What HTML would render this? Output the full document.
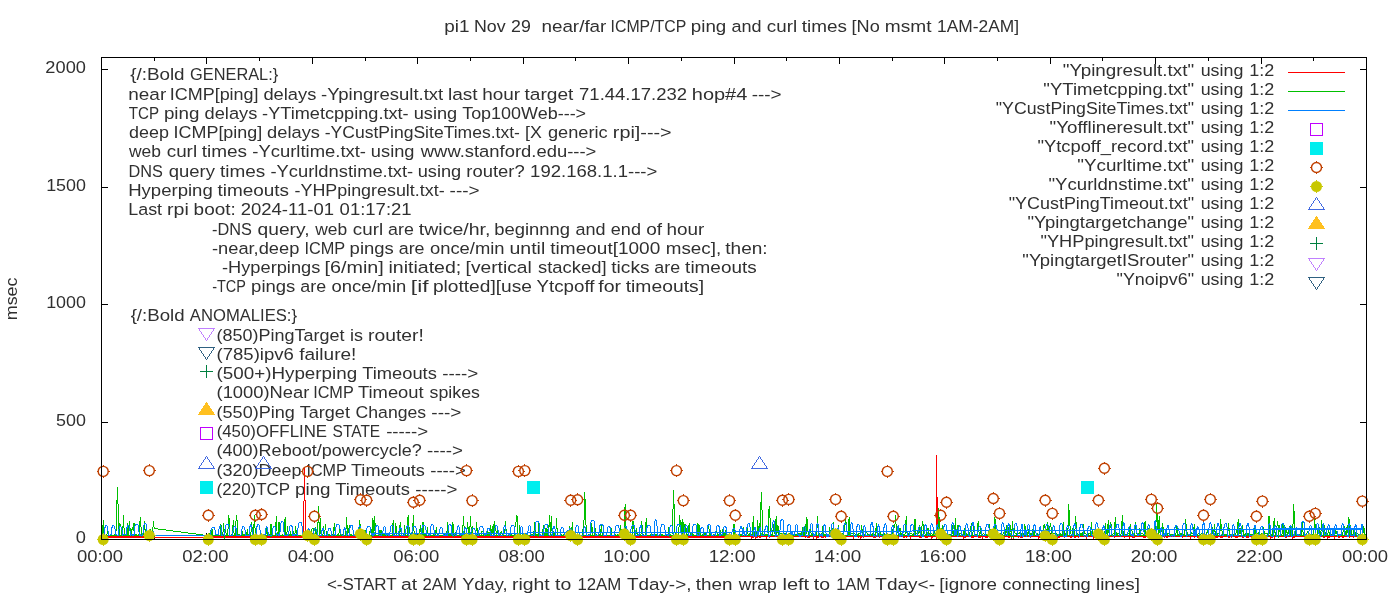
<!DOCTYPE html>
<html><head><meta charset="utf-8"><title>pi1 ping plot</title>
<style>
html,body{margin:0;padding:0;background:#fff;}
svg{display:block;will-change:transform;}
.t text{font-family:"Liberation Sans",sans-serif;font-size:16.3px;fill:#303030;}
</style></head><body>
<svg width="1400" height="600" viewBox="0 0 1400 600">
<rect x="0" y="0" width="1400" height="600" fill="#fff"/>
<g class="t">
<text x="444.22" y="32" textLength="25.20" lengthAdjust="spacingAndGlyphs">pi1</text><text x="474.02" y="32" textLength="31.68" lengthAdjust="spacingAndGlyphs">Nov</text><text x="511.12" y="32" textLength="19.77" lengthAdjust="spacingAndGlyphs">29</text><text x="541.45" y="32" textLength="64.95" lengthAdjust="spacingAndGlyphs">near/far</text><text x="610.55" y="32" textLength="75.75" lengthAdjust="spacingAndGlyphs">ICMP/TCP</text><text x="690.85" y="32" textLength="35.48" lengthAdjust="spacingAndGlyphs">ping</text><text x="731.46" y="32" textLength="30.07" lengthAdjust="spacingAndGlyphs">and</text><text x="766.84" y="32" textLength="30.25" lengthAdjust="spacingAndGlyphs">curl</text><text x="801.69" y="32" textLength="45.23" lengthAdjust="spacingAndGlyphs">times</text><text x="851.58" y="32" textLength="28.19" lengthAdjust="spacingAndGlyphs">[No</text><text x="884.82" y="32" textLength="46.70" lengthAdjust="spacingAndGlyphs">msmt</text><text x="937.04" y="32" textLength="82.03" lengthAdjust="spacingAndGlyphs">1AM-2AM]</text>
<text x="326.95" y="590" textLength="69.67" lengthAdjust="spacingAndGlyphs">&lt;-START</text><text x="401.14" y="590" textLength="16.12" lengthAdjust="spacingAndGlyphs">at</text><text x="422.48" y="590" textLength="34.41" lengthAdjust="spacingAndGlyphs">2AM</text><text x="462.17" y="590" textLength="45.38" lengthAdjust="spacingAndGlyphs">Yday,</text><text x="512.04" y="590" textLength="37.73" lengthAdjust="spacingAndGlyphs">right</text><text x="555.12" y="590" textLength="16.25" lengthAdjust="spacingAndGlyphs">to</text><text x="577.43" y="590" textLength="43.90" lengthAdjust="spacingAndGlyphs">12AM</text><text x="626.90" y="590" textLength="64.53" lengthAdjust="spacingAndGlyphs">Tday-&gt;,</text><text x="695.79" y="590" textLength="36.70" lengthAdjust="spacingAndGlyphs">then</text><text x="738.82" y="590" textLength="38.00" lengthAdjust="spacingAndGlyphs">wrap</text><text x="782.48" y="590" textLength="26.73" lengthAdjust="spacingAndGlyphs">left</text><text x="813.84" y="590" textLength="16.25" lengthAdjust="spacingAndGlyphs">to</text><text x="836.18" y="590" textLength="33.78" lengthAdjust="spacingAndGlyphs">1AM</text><text x="875.37" y="590" textLength="59.63" lengthAdjust="spacingAndGlyphs">Tday&lt;-</text><text x="939.37" y="590" textLength="57.51" lengthAdjust="spacingAndGlyphs">[ignore</text><text x="1002.25" y="590" textLength="88.52" lengthAdjust="spacingAndGlyphs">connecting</text><text x="1096.03" y="590" textLength="43.93" lengthAdjust="spacingAndGlyphs">lines]</text>
<text transform="translate(17.2,320.23) rotate(-90)" x="0" y="0" textLength="42.71" lengthAdjust="spacingAndGlyphs">msec</text>
<text x="75.81" y="543" textLength="10.17" lengthAdjust="spacingAndGlyphs">0</text>
<text x="56.13" y="426" textLength="29.84" lengthAdjust="spacingAndGlyphs">500</text>
<text x="46.16" y="308" textLength="39.81" lengthAdjust="spacingAndGlyphs">1000</text>
<text x="46.16" y="191" textLength="39.81" lengthAdjust="spacingAndGlyphs">1500</text>
<text x="45.39" y="73" textLength="40.59" lengthAdjust="spacingAndGlyphs">2000</text>
<text x="76.91" y="562" textLength="46.23" lengthAdjust="spacingAndGlyphs">00:00</text>
<text x="182.32" y="562" textLength="46.23" lengthAdjust="spacingAndGlyphs">02:00</text>
<text x="287.74" y="562" textLength="46.23" lengthAdjust="spacingAndGlyphs">04:00</text>
<text x="393.16" y="562" textLength="46.23" lengthAdjust="spacingAndGlyphs">06:00</text>
<text x="498.57" y="562" textLength="46.23" lengthAdjust="spacingAndGlyphs">08:00</text>
<text x="603.28" y="562" textLength="46.96" lengthAdjust="spacingAndGlyphs">10:00</text>
<text x="708.69" y="562" textLength="46.96" lengthAdjust="spacingAndGlyphs">12:00</text>
<text x="814.11" y="562" textLength="46.96" lengthAdjust="spacingAndGlyphs">14:00</text>
<text x="919.53" y="562" textLength="46.96" lengthAdjust="spacingAndGlyphs">16:00</text>
<text x="1024.94" y="562" textLength="46.96" lengthAdjust="spacingAndGlyphs">18:00</text>
<text x="1130.84" y="562" textLength="46.47" lengthAdjust="spacingAndGlyphs">20:00</text>
<text x="1236.25" y="562" textLength="46.47" lengthAdjust="spacingAndGlyphs">22:00</text>
<text x="1341.91" y="562" textLength="46.23" lengthAdjust="spacingAndGlyphs">00:00</text>
<text x="130.15" y="80" textLength="54.46" lengthAdjust="spacingAndGlyphs">{/:Bold</text><text x="190.11" y="80" textLength="88.05" lengthAdjust="spacingAndGlyphs">GENERAL:}</text>
<text x="128.30" y="100" textLength="37.92" lengthAdjust="spacingAndGlyphs">near</text><text x="169.79" y="100" textLength="88.79" lengthAdjust="spacingAndGlyphs">ICMP[ping]</text><text x="263.42" y="100" textLength="52.93" lengthAdjust="spacingAndGlyphs">delays</text><text x="321.14" y="100" textLength="122.12" lengthAdjust="spacingAndGlyphs">-Ypingresult.txt</text><text x="447.96" y="100" textLength="29.70" lengthAdjust="spacingAndGlyphs">last</text><text x="482.28" y="100" textLength="37.92" lengthAdjust="spacingAndGlyphs">hour</text><text x="524.49" y="100" textLength="48.84" lengthAdjust="spacingAndGlyphs">target</text><text x="579.10" y="100" textLength="107.89" lengthAdjust="spacingAndGlyphs">71.44.17.232</text><text x="691.80" y="100" textLength="55.50" lengthAdjust="spacingAndGlyphs">hop#4</text><text x="751.70" y="100" textLength="29.96" lengthAdjust="spacingAndGlyphs">---&gt;</text>
<text x="128.82" y="119" textLength="30.32" lengthAdjust="spacingAndGlyphs">TCP</text><text x="163.92" y="119" textLength="35.50" lengthAdjust="spacingAndGlyphs">ping</text><text x="204.56" y="119" textLength="52.76" lengthAdjust="spacingAndGlyphs">delays</text><text x="262.10" y="119" textLength="146.54" lengthAdjust="spacingAndGlyphs">-YTimetcpping.txt-</text><text x="413.74" y="119" textLength="43.48" lengthAdjust="spacingAndGlyphs">using</text><text x="462.17" y="119" textLength="123.95" lengthAdjust="spacingAndGlyphs">Top100Web---&gt;</text>
<text x="129.02" y="138" textLength="39.88" lengthAdjust="spacingAndGlyphs">deep</text><text x="173.59" y="138" textLength="88.67" lengthAdjust="spacingAndGlyphs">ICMP[ping]</text><text x="267.10" y="138" textLength="52.86" lengthAdjust="spacingAndGlyphs">delays</text><text x="324.78" y="138" textLength="195.16" lengthAdjust="spacingAndGlyphs">-YCustPingSiteTimes.txt-</text><text x="525.06" y="138" textLength="16.81" lengthAdjust="spacingAndGlyphs">[X</text><text x="547.98" y="138" textLength="59.71" lengthAdjust="spacingAndGlyphs">generic</text><text x="612.87" y="138" textLength="58.76" lengthAdjust="spacingAndGlyphs">rpi]---&gt;</text>
<text x="129.00" y="157" textLength="32.01" lengthAdjust="spacingAndGlyphs">web</text><text x="166.73" y="157" textLength="30.37" lengthAdjust="spacingAndGlyphs">curl</text><text x="201.72" y="157" textLength="45.41" lengthAdjust="spacingAndGlyphs">times</text><text x="252.25" y="157" textLength="113.78" lengthAdjust="spacingAndGlyphs">-Ycurltime.txt-</text><text x="370.88" y="157" textLength="43.62" lengthAdjust="spacingAndGlyphs">using</text><text x="420.81" y="157" textLength="175.50" lengthAdjust="spacingAndGlyphs">www.stanford.edu---&gt;</text>
<text x="128.38" y="177" textLength="34.37" lengthAdjust="spacingAndGlyphs">DNS</text><text x="168.75" y="177" textLength="46.19" lengthAdjust="spacingAndGlyphs">query</text><text x="220.00" y="177" textLength="45.33" lengthAdjust="spacingAndGlyphs">times</text><text x="270.44" y="177" textLength="142.79" lengthAdjust="spacingAndGlyphs">-Ycurldnstime.txt-</text><text x="417.71" y="177" textLength="43.54" lengthAdjust="spacingAndGlyphs">using</text><text x="466.29" y="177" textLength="58.39" lengthAdjust="spacingAndGlyphs">router?</text><text x="530.13" y="177" textLength="127.24" lengthAdjust="spacingAndGlyphs">192.168.1.1---&gt;</text>
<text x="128.19" y="196" textLength="84.53" lengthAdjust="spacingAndGlyphs">Hyperping</text><text x="217.43" y="196" textLength="71.63" lengthAdjust="spacingAndGlyphs">timeouts</text><text x="294.50" y="196" textLength="150.14" lengthAdjust="spacingAndGlyphs">-YHPpingresult.txt-</text><text x="449.59" y="196" textLength="29.98" lengthAdjust="spacingAndGlyphs">---&gt;</text>
<text x="128.25" y="215" textLength="33.79" lengthAdjust="spacingAndGlyphs">Last</text><text x="167.03" y="215" textLength="21.78" lengthAdjust="spacingAndGlyphs">rpi</text><text x="193.62" y="215" textLength="42.17" lengthAdjust="spacingAndGlyphs">boot:</text><text x="240.66" y="215" textLength="93.32" lengthAdjust="spacingAndGlyphs">2024-11-01</text><text x="339.61" y="215" textLength="72.00" lengthAdjust="spacingAndGlyphs">01:17:21</text>
<text x="212.09" y="235" textLength="39.79" lengthAdjust="spacingAndGlyphs">-DNS</text><text x="257.59" y="235" textLength="51.94" lengthAdjust="spacingAndGlyphs">query,</text><text x="315.18" y="235" textLength="31.91" lengthAdjust="spacingAndGlyphs">web</text><text x="352.80" y="235" textLength="30.28" lengthAdjust="spacingAndGlyphs">curl</text><text x="388.14" y="235" textLength="25.75" lengthAdjust="spacingAndGlyphs">are</text><text x="418.86" y="235" textLength="71.52" lengthAdjust="spacingAndGlyphs">twice/hr,</text><text x="494.22" y="235" textLength="75.84" lengthAdjust="spacingAndGlyphs">beginnng</text><text x="575.40" y="235" textLength="30.10" lengthAdjust="spacingAndGlyphs">and</text><text x="610.83" y="235" textLength="30.10" lengthAdjust="spacingAndGlyphs">end</text><text x="646.26" y="235" textLength="15.87" lengthAdjust="spacingAndGlyphs">of</text><text x="666.46" y="235" textLength="37.80" lengthAdjust="spacingAndGlyphs">hour</text>
<text x="212.00" y="254" textLength="87.33" lengthAdjust="spacingAndGlyphs">-near,deep</text><text x="304.40" y="254" textLength="40.77" lengthAdjust="spacingAndGlyphs">ICMP</text><text x="349.61" y="254" textLength="44.15" lengthAdjust="spacingAndGlyphs">pings</text><text x="398.73" y="254" textLength="25.79" lengthAdjust="spacingAndGlyphs">are</text><text x="429.96" y="254" textLength="74.59" lengthAdjust="spacingAndGlyphs">once/min</text><text x="509.47" y="254" textLength="35.78" lengthAdjust="spacingAndGlyphs">until</text><text x="550.35" y="254" textLength="109.88" lengthAdjust="spacingAndGlyphs">timeout[1000</text><text x="665.76" y="254" textLength="55.40" lengthAdjust="spacingAndGlyphs">msec],</text><text x="725.32" y="254" textLength="42.35" lengthAdjust="spacingAndGlyphs">then:</text>
<text x="222.00" y="273" textLength="98.30" lengthAdjust="spacingAndGlyphs">-Hyperpings</text><text x="324.56" y="273" textLength="59.24" lengthAdjust="spacingAndGlyphs">[6/min]</text><text x="388.51" y="273" textLength="72.79" lengthAdjust="spacingAndGlyphs">initiated;</text><text x="465.58" y="273" textLength="66.11" lengthAdjust="spacingAndGlyphs">[vertical</text><text x="537.99" y="273" textLength="68.53" lengthAdjust="spacingAndGlyphs">stacked]</text><text x="611.26" y="273" textLength="38.29" lengthAdjust="spacingAndGlyphs">ticks</text><text x="654.34" y="273" textLength="25.81" lengthAdjust="spacingAndGlyphs">are</text><text x="685.13" y="273" textLength="71.54" lengthAdjust="spacingAndGlyphs">timeouts</text>
<text x="212.17" y="292" textLength="33.70" lengthAdjust="spacingAndGlyphs">-TCP</text><text x="251.11" y="292" textLength="44.21" lengthAdjust="spacingAndGlyphs">pings</text><text x="300.32" y="292" textLength="25.83" lengthAdjust="spacingAndGlyphs">are</text><text x="331.59" y="292" textLength="74.70" lengthAdjust="spacingAndGlyphs">once/min</text><text x="410.88" y="292" textLength="17.64" lengthAdjust="spacingAndGlyphs">[if</text><text x="432.90" y="292" textLength="99.03" lengthAdjust="spacingAndGlyphs">plotted][use</text><text x="536.54" y="292" textLength="57.94" lengthAdjust="spacingAndGlyphs">Ytcpoff</text><text x="598.31" y="292" textLength="22.80" lengthAdjust="spacingAndGlyphs">for</text><text x="625.70" y="292" textLength="78.35" lengthAdjust="spacingAndGlyphs">timeouts]</text>
<text x="130.65" y="321" textLength="53.94" lengthAdjust="spacingAndGlyphs">{/:Bold</text><text x="189.87" y="321" textLength="107.19" lengthAdjust="spacingAndGlyphs">ANOMALIES:}</text>
<text x="216.58" y="341" textLength="128.00" lengthAdjust="spacingAndGlyphs">(850)PingTarget</text><text x="350.01" y="341" textLength="13.01" lengthAdjust="spacingAndGlyphs">is</text><text x="368.06" y="341" textLength="55.78" lengthAdjust="spacingAndGlyphs">router!</text>
<text x="216.54" y="360" textLength="77.29" lengthAdjust="spacingAndGlyphs">(785)ipv6</text><text x="299.23" y="360" textLength="57.17" lengthAdjust="spacingAndGlyphs">failure!</text>
<text x="216.52" y="379" textLength="140.61" lengthAdjust="spacingAndGlyphs">(500+)Hyperping</text><text x="362.19" y="379" textLength="74.69" lengthAdjust="spacingAndGlyphs">Timeouts</text><text x="442.27" y="379" textLength="36.02" lengthAdjust="spacingAndGlyphs">----&gt;</text>
<text x="216.55" y="398" textLength="92.79" lengthAdjust="spacingAndGlyphs">(1000)Near</text><text x="313.13" y="398" textLength="40.60" lengthAdjust="spacingAndGlyphs">ICMP</text><text x="357.95" y="398" textLength="65.74" lengthAdjust="spacingAndGlyphs">Timeout</text><text x="429.54" y="398" textLength="50.37" lengthAdjust="spacingAndGlyphs">spikes</text>
<text x="216.57" y="418" textLength="78.28" lengthAdjust="spacingAndGlyphs">(550)Ping</text><text x="299.72" y="418" textLength="50.22" lengthAdjust="spacingAndGlyphs">Target</text><text x="355.58" y="418" textLength="70.55" lengthAdjust="spacingAndGlyphs">Changes</text><text x="431.38" y="418" textLength="30.09" lengthAdjust="spacingAndGlyphs">---&gt;</text>
<text x="216.65" y="437" textLength="110.44" lengthAdjust="spacingAndGlyphs">(450)OFFLINE</text><text x="332.57" y="437" textLength="47.61" lengthAdjust="spacingAndGlyphs">STATE</text><text x="386.15" y="437" textLength="41.97" lengthAdjust="spacingAndGlyphs">-----&gt;</text>
<text x="216.57" y="456" textLength="205.23" lengthAdjust="spacingAndGlyphs">(400)Reboot/powercycle?</text><text x="427.14" y="456" textLength="35.94" lengthAdjust="spacingAndGlyphs">----&gt;</text>
<text x="216.58" y="476" textLength="84.80" lengthAdjust="spacingAndGlyphs">(320)Deep</text><text x="306.40" y="476" textLength="40.37" lengthAdjust="spacingAndGlyphs">ICMP</text><text x="350.97" y="476" textLength="73.93" lengthAdjust="spacingAndGlyphs">Timeouts</text><text x="430.23" y="476" textLength="35.65" lengthAdjust="spacingAndGlyphs">----&gt;</text>
<text x="216.64" y="495" textLength="73.57" lengthAdjust="spacingAndGlyphs">(220)TCP</text><text x="295.02" y="495" textLength="35.58" lengthAdjust="spacingAndGlyphs">ping</text><text x="335.19" y="495" textLength="74.66" lengthAdjust="spacingAndGlyphs">Timeouts</text><text x="415.24" y="495" textLength="42.08" lengthAdjust="spacingAndGlyphs">-----&gt;</text>
</g>
<path d="M101.5 540.0v-7M101.5 57.0v7M154.5 540.0v-4M154.5 57.0v4M206.5 540.0v-7M206.5 57.0v7M259.5 540.0v-4M259.5 57.0v4M312.5 540.0v-7M312.5 57.0v7M365.5 540.0v-4M365.5 57.0v4M417.5 540.0v-7M417.5 57.0v7M470.5 540.0v-4M470.5 57.0v4M523.5 540.0v-7M523.5 57.0v7M575.5 540.0v-4M575.5 57.0v4M628.5 540.0v-7M628.5 57.0v7M681.5 540.0v-4M681.5 57.0v4M734.5 540.0v-7M734.5 57.0v7M786.5 540.0v-4M786.5 57.0v4M839.5 540.0v-7M839.5 57.0v7M892.5 540.0v-4M892.5 57.0v4M944.5 540.0v-7M944.5 57.0v7M997.5 540.0v-4M997.5 57.0v4M1050.5 540.0v-7M1050.5 57.0v7M1102.5 540.0v-4M1102.5 57.0v4M1155.5 540.0v-7M1155.5 57.0v7M1208.5 540.0v-4M1208.5 57.0v4M1261.5 540.0v-7M1261.5 57.0v7M1313.5 540.0v-4M1313.5 57.0v4M1366.5 540.0v-7M1366.5 57.0v7M101.0 539.5h7M1367.0 539.5h-7M101.0 422.5h7M1367.0 422.5h-7M101.0 304.5h7M1367.0 304.5h-7M101.0 187.5h7M1367.0 187.5h-7M101.0 69.5h7M1367.0 69.5h-7" stroke="#000" stroke-width="1" fill="none" shape-rendering="crispEdges"/>
<g shape-rendering="crispEdges">
<path d="M206.5 340.5L214.5 328.5L198.5 328.5Z" fill="none" stroke="#c080ff" stroke-width="1"/>
<path d="M206.5 359.5L214.5 347.5L198.5 347.5Z" fill="none" stroke="#306080" stroke-width="1"/>
<path d="M200.0 371.5h13M206.5 365.0v13" stroke="#008040" stroke-width="1" fill="none"/>
<path d="M206.5 402.5L214.5 414.5L198.5 414.5Z" fill="#ffc020" stroke="#ffc020" stroke-width="1"/>
<rect x="200.5" y="427.5" width="12" height="12" fill="none" stroke="#c000ff" stroke-width="1"/>
<path d="M206.5 456.5L214.5 468.5L198.5 468.5Z" fill="none" stroke="#4169e1" stroke-width="1"/>
<rect x="200.0" y="481.0" width="13" height="13" fill="#00eeee"/>
<path d="M1288.0 72.5H1345.0" stroke="#ff0000" stroke-width="1" fill="none"/>
<path d="M103 537H154M207 537H740" stroke="#ff0000" stroke-width="2" fill="none"/>
<path d="M154 537.5H207M740 536.5H1362" stroke="#ff0000" stroke-width="1" fill="none"/>
<path d="M751 537.5h3M751 538.5h1M755 537.5h3M755 538.5h1M759 537.5h2M766 537.5h1M766 538.5h1M769 537.5h1M778 537.5h2M778 538.5h1M782 537.5h2M788 537.5h1M805 537.5h1M807 537.5h3M813 537.5h1M813 538.5h1M816 537.5h3M816 538.5h1M821 537.5h3M825 537.5h1M833 537.5h1M833 538.5h1M844 537.5h1M853 537.5h1M853 538.5h1M858 537.5h1M860 537.5h2M860 538.5h1M863 537.5h1M873 537.5h3M879 537.5h1M884 537.5h2M891 537.5h1M893 537.5h1M895 537.5h1M898 537.5h1M898 538.5h1M903 537.5h2M906 537.5h1M910 537.5h1M910 538.5h1M919 537.5h3M925 537.5h3M931 537.5h2M931 538.5h1M936 537.5h3M936 538.5h1M963 537.5h3M963 538.5h1M971 537.5h3M978 537.5h3M982 537.5h1M982 538.5h1M985 537.5h3M994 537.5h1M1000 537.5h2M1004 537.5h1M1004 538.5h1M1008 537.5h2M1011 537.5h1M1011 538.5h1M1013 537.5h1M1013 538.5h1M1018 537.5h1M1020 537.5h3M1030 537.5h1M1038 537.5h3M1038 538.5h1M1046 537.5h2M1053 537.5h3M1053 538.5h1M1057 537.5h3M1057 538.5h1M1064 537.5h1M1070 537.5h2M1074 537.5h2M1078 537.5h1M1086 537.5h1M1086 538.5h1M1093 537.5h2M1093 538.5h1M1114 537.5h1M1124 537.5h1M1129 537.5h1M1129 538.5h1M1132 537.5h3M1143 537.5h3M1152 537.5h3M1156 537.5h1M1160 537.5h1M1164 537.5h1M1166 537.5h2M1182 537.5h1M1190 537.5h1M1190 538.5h1M1194 537.5h1M1197 537.5h2M1208 537.5h3M1208 538.5h1M1215 537.5h3M1220 537.5h3M1228 537.5h2M1231 537.5h1M1235 537.5h3M1242 537.5h2M1246 537.5h3M1251 537.5h1M1256 537.5h1M1259 537.5h3M1270 537.5h3M1270 538.5h1M1274 537.5h1M1274 538.5h1M1285 537.5h2M1292 537.5h3M1292 538.5h1M1306 537.5h3M1306 538.5h1M1310 537.5h3M1317 537.5h3M1323 537.5h2M1327 537.5h3M1327 538.5h1M1334 537.5h1M1334 538.5h1M1338 537.5h2M1342 537.5h2M1349 537.5h1M1353 537.5h1" stroke="#ff0000" stroke-width="1" fill="none"/>
<path d="M303.5 537V501M304.5 501V468M305.5 537V500" stroke="#ff0000" stroke-width="1" fill="none"/>
<path d="M936.5 537V455M937.5 537V497" stroke="#ff0000" stroke-width="1" fill="none"/>
<path d="M1288.0 91.5H1345.0" stroke="#00c000" stroke-width="1" fill="none"/>
<path d="M101.5 535.5L102.4 535.5L103.3 520.0L104.1 535.5L105.0 535.5L105.9 535.5L106.8 535.5L107.6 529.7L108.5 534.5L109.4 535.5L110.3 535.5L111.2 535.5L112.0 535.5L112.9 535.5L113.8 535.5L114.7 534.5L115.6 535.5L116.4 527.8L117.3 487.0L118.2 508.0L119.1 535.5L119.9 523.8L120.8 524.6L121.7 535.5L122.6 534.5L123.5 515.0L124.3 535.5L125.2 534.5L126.1 534.5L127.0 535.5L127.9 523.4L128.7 535.5L129.6 521.0L130.5 535.5L131.4 535.5L132.2 527.5L133.1 530.5L134.0 523.0L134.9 534.5L135.8 534.5L136.6 534.5L137.5 535.5L138.4 534.5L139.3 535.5L140.2 517.1L141.0 527.0L141.9 535.5L142.8 534.5L143.7 535.5L144.5 521.3L145.4 534.5L146.3 535.5L147.2 535.5L148.1 535.5L148.9 535.5L149.8 535.5L150.7 530.5L151.6 535.5L152.5 534.5L153.3 523.0L154.2 528.5L206.9 535.5L207.8 535.5L208.7 535.5L209.6 535.5L210.4 531.5L211.3 535.5L212.2 530.5L213.1 535.5L213.9 535.5L214.8 535.5L215.7 535.5L216.6 535.5L217.5 534.5L218.3 535.5L219.2 535.5L220.1 535.5L221.0 524.5L221.9 534.5L222.7 535.5L223.6 526.8L224.5 534.5L225.4 525.1L226.2 535.5L227.1 534.5L228.0 529.5L228.9 515.0L229.8 535.5L230.6 535.5L231.5 534.5L232.4 534.5L233.3 520.0L234.1 534.5L235.0 535.5L235.9 521.6L236.8 515.0L237.7 534.5L238.5 534.5L239.4 534.5L240.3 535.5L241.2 535.5L242.1 531.3L242.9 535.5L243.8 534.5L244.7 534.5L245.6 534.5L246.4 535.5L247.3 530.6L248.2 535.5L249.1 535.5L250.0 535.5L250.8 535.5L251.7 522.4L252.6 535.5L253.5 535.5L254.4 515.1L255.2 531.7L256.1 534.5L257.0 535.5L257.9 535.5L258.7 535.5L259.6 535.5L260.5 534.5L261.4 534.5L262.3 535.5L263.1 535.5L264.0 534.5L264.9 535.5L265.8 535.5L266.7 528.7L267.5 535.5L268.4 535.5L269.3 534.5L270.2 535.5L271.0 523.9L271.9 535.5L272.8 534.5L273.7 535.5L274.6 535.5L275.4 535.5L276.3 516.0L277.2 535.5L278.1 535.5L279.0 522.2L279.8 534.5L280.7 535.5L281.6 535.5L282.5 534.5L283.3 535.5L284.2 534.5L285.1 517.0L286.0 534.5L286.9 532.6L287.7 528.1L288.6 535.5L289.5 535.5L290.4 532.2L291.2 535.5L292.1 534.5L293.0 531.2L293.9 535.5L294.8 535.5L295.6 525.7L296.5 535.5L297.4 534.5L298.3 535.5L299.2 535.5L300.0 535.5L300.9 535.5L301.8 535.5L302.7 532.9L303.5 535.5L304.4 535.5L305.3 535.5L306.2 535.5L307.1 535.5L307.9 535.5L308.8 534.5L309.7 535.5L310.6 535.5L311.5 530.4L312.3 528.8L313.2 528.4L314.1 534.5L315.0 534.5L315.8 528.8L316.7 534.5L317.6 535.5L318.5 506.0L319.4 535.5L320.2 518.0L321.1 535.5L322.0 535.5L322.9 534.5L323.8 527.4L324.6 535.5L325.5 523.8L326.4 535.5L327.3 534.5L328.1 535.5L329.0 534.5L329.9 535.5L330.8 535.5L331.7 535.5L332.5 534.5L333.4 535.5L334.3 523.2L335.2 532.8L336.1 535.5L336.9 535.5L337.8 534.5L338.7 535.5L339.6 529.1L340.4 535.5L341.3 535.5L342.2 534.5L343.1 534.5L344.0 535.5L344.8 535.5L345.7 534.5L346.6 516.9L347.5 534.5L348.4 531.4L349.2 527.0L350.1 535.5L351.0 534.5L351.9 535.5L352.7 535.5L353.6 535.5L354.5 535.5L355.4 535.5L356.3 534.5L357.1 532.8L358.0 534.5L358.9 534.5L359.8 519.7L360.6 534.5L361.5 535.5L362.4 535.5L363.3 534.5L364.2 534.5L365.0 529.8L365.9 535.5L366.8 535.5L367.7 534.5L368.6 535.5L369.4 534.5L370.3 529.7L371.2 529.8L372.1 535.5L372.9 518.0L373.8 535.5L374.7 516.0L375.6 535.5L376.5 535.5L377.3 535.5L378.2 535.5L379.1 535.5L380.0 530.2L380.9 535.5L381.7 531.7L382.6 535.5L383.5 534.5L384.4 534.5L385.2 534.5L386.1 535.5L387.0 534.5L387.9 535.5L388.8 535.5L389.6 534.5L390.5 535.5L391.4 535.5L392.3 535.5L393.2 520.0L394.0 535.5L394.9 535.5L395.8 523.1L396.7 535.5L397.5 535.5L398.4 535.5L399.3 535.5L400.2 522.1L401.1 532.5L401.9 535.5L402.8 535.5L403.7 535.5L404.6 528.4L405.5 535.5L406.3 535.5L407.2 535.5L408.1 515.0L409.0 527.4L409.8 532.0L410.7 535.5L411.6 535.5L412.5 534.5L413.4 515.0L414.2 535.5L415.1 534.5L416.0 535.5L416.9 535.5L417.8 535.5L418.6 534.5L419.5 534.5L420.4 525.0L421.3 534.5L422.1 535.5L423.0 521.8L423.9 534.5L424.8 535.5L425.7 534.5L426.5 535.5L427.4 529.1L428.3 534.5L429.2 535.5L430.0 535.5L430.9 535.5L431.8 535.5L432.7 535.5L433.6 534.5L434.4 535.5L435.3 535.5L436.2 528.4L437.1 534.5L438.0 535.5L438.8 535.5L439.7 535.5L440.6 535.5L441.5 535.5L442.3 535.5L443.2 534.5L444.1 535.5L445.0 534.5L445.9 535.5L446.7 535.5L447.6 521.8L448.5 534.5L449.4 534.5L450.3 534.5L451.1 535.5L452.0 535.5L452.9 522.0L453.8 535.5L454.6 534.5L455.5 533.0L456.4 535.5L457.3 535.5L458.2 535.5L459.0 535.5L459.9 535.5L460.8 535.5L461.7 535.5L462.6 534.5L463.4 516.0L464.3 531.2L465.2 535.5L466.1 535.5L466.9 529.8L467.8 523.8L468.7 535.5L469.6 534.5L470.5 516.1L471.3 533.0L472.2 527.2L473.1 535.5L474.0 535.5L474.9 535.5L475.7 535.5L476.6 522.4L477.5 535.5L478.4 534.5L479.2 534.5L480.1 535.5L481.0 535.5L481.9 531.2L482.8 531.3L483.6 535.5L484.5 535.5L485.4 535.5L486.3 531.4L487.1 531.7L488.0 535.5L488.9 532.5L489.8 534.5L490.7 525.2L491.5 535.5L492.4 525.8L493.3 535.5L494.2 521.2L495.1 529.2L495.9 530.7L496.8 534.5L497.7 529.2L498.6 532.3L499.4 535.5L500.3 535.5L501.2 531.4L502.1 534.5L503.0 534.5L503.8 534.5L504.7 531.1L505.6 523.9L506.5 535.5L507.4 535.5L508.2 535.5L509.1 534.5L510.0 534.5L510.9 532.9L511.7 535.5L512.6 535.5L513.5 535.5L514.4 534.5L515.3 523.4L516.1 521.7L517.0 515.4L517.9 534.5L518.8 535.5L519.7 525.2L520.5 535.5L521.4 535.5L522.3 534.5L523.2 534.5L524.0 535.5L524.9 534.5L525.8 535.5L526.7 534.5L527.6 535.5L528.4 535.5L529.3 535.5L530.2 534.5L531.1 535.5L532.0 534.5L532.8 534.5L533.7 535.5L534.6 522.4L535.5 534.5L536.3 534.5L537.2 534.5L538.1 535.5L539.0 523.0L539.9 535.5L540.7 535.5L541.6 535.5L542.5 534.5L543.4 524.7L544.2 535.5L545.1 535.5L546.0 528.3L546.9 535.5L547.8 529.9L548.6 532.5L549.5 515.1L550.4 535.5L551.3 516.0L552.2 535.5L553.0 535.5L553.9 531.9L554.8 535.5L555.7 535.5L556.5 518.2L557.4 535.5L558.3 535.5L559.2 535.5L560.1 535.5L560.9 535.5L561.8 534.5L562.7 535.5L563.6 534.5L564.5 534.5L565.3 535.5L566.2 535.5L567.1 535.5L568.0 535.5L568.8 535.5L569.7 528.3L570.6 534.5L571.5 534.5L572.4 521.9L573.2 535.5L574.1 535.5L575.0 535.5L575.9 535.5L576.8 535.5L577.6 535.5L578.5 535.5L579.4 534.5L580.3 535.5L581.1 535.5L582.0 535.5L582.9 529.8L583.8 528.9L584.7 492.0L585.5 511.0L586.4 535.5L587.3 535.5L588.2 535.5L589.1 534.5L589.9 534.5L590.8 534.5L591.7 523.2L592.6 534.5L593.4 535.5L594.3 534.5L595.2 528.8L596.1 534.5L597.0 535.5L597.8 535.5L598.7 534.5L599.6 534.5L600.5 535.5L601.4 523.9L602.2 535.5L603.1 534.5L604.0 535.5L604.9 535.5L605.7 535.5L606.6 535.5L607.5 535.5L608.4 535.5L609.3 535.5L610.1 535.5L611.0 527.6L611.9 535.5L612.8 535.5L613.6 535.5L614.5 534.5L615.4 534.5L616.3 535.5L617.2 534.5L618.0 534.5L618.9 534.5L619.8 534.5L620.7 525.3L621.6 535.5L622.4 534.5L623.3 535.5L624.2 535.5L625.1 504.0L625.9 535.5L626.8 535.5L627.7 535.5L628.6 535.5L629.5 535.5L630.3 535.5L631.2 535.5L632.1 535.5L633.0 521.2L633.9 528.6L634.7 534.5L635.6 535.5L636.5 530.9L637.4 535.5L638.2 535.5L639.1 534.5L640.0 535.5L640.9 535.5L641.8 521.3L642.6 534.5L643.5 534.5L644.4 535.5L645.3 535.5L646.2 518.0L647.0 535.5L647.9 535.5L648.8 535.5L649.7 535.5L650.5 534.5L651.4 535.5L652.3 534.5L653.2 534.5L654.1 534.5L654.9 534.5L655.8 535.5L656.7 534.5L657.6 534.5L658.5 535.5L659.3 535.5L660.2 534.5L661.1 535.5L662.0 534.5L662.8 534.5L663.7 535.5L664.6 535.5L665.5 535.5L666.4 534.5L667.2 535.5L668.1 534.5L669.0 527.0L669.9 535.5L670.8 534.5L671.6 535.5L672.5 534.5L673.4 490.3L674.3 510.0L675.1 535.5L676.0 535.5L676.9 535.5L677.8 535.5L678.7 534.5L679.5 515.0L680.4 523.1L681.3 535.5L682.2 518.7L683.0 534.5L683.9 522.4L684.8 534.5L685.7 524.4L686.6 535.5L687.4 534.5L688.3 535.5L689.2 522.8L690.1 534.5L691.0 535.5L691.8 532.7L692.7 534.5L693.6 534.5L694.5 535.5L695.3 535.5L696.2 535.5L697.1 534.5L698.0 523.4L698.9 535.5L699.7 527.7L700.6 535.5L701.5 535.5L702.4 534.5L703.3 535.5L704.1 535.5L705.0 531.9L705.9 534.5L706.8 535.5L707.6 527.5L708.5 525.6L709.4 532.4L710.3 535.5L711.2 535.5L712.0 535.5L712.9 535.5L713.8 534.5L714.7 535.5L715.6 534.5L716.4 528.7L717.3 535.5L718.2 535.5L719.1 534.5L719.9 529.2L720.8 534.5L721.7 535.5L722.6 531.2L723.5 535.5L724.3 534.5L725.2 531.2L726.1 535.5L727.0 535.5L727.9 535.5L728.7 535.5L729.6 535.5L730.5 535.5L731.4 534.5L732.2 535.5L733.1 535.5L734.0 524.2L734.9 535.5L735.8 534.5L736.6 534.5L737.5 535.5L738.4 534.5L739.3 534.5L740.1 534.5L741.0 534.5L741.9 534.5L742.8 533.5L743.7 528.9L744.5 533.5L745.4 534.5L746.3 534.5L747.2 524.9L748.1 534.5L748.9 534.5L749.8 533.5L750.7 533.5L751.6 534.5L752.4 534.5L753.3 515.8L754.2 534.5L755.1 534.5L756.0 534.5L756.8 534.5L757.7 524.1L758.6 529.1L759.5 525.5L760.4 534.5L761.2 492.0L762.1 512.0L763.0 534.5L763.9 534.5L764.7 534.5L765.6 534.5L766.5 534.5L767.4 534.5L768.3 533.5L769.1 505.7L770.0 518.0L770.9 534.5L771.8 534.5L772.7 534.5L773.5 524.5L774.4 533.5L775.3 534.5L776.2 515.8L777.0 533.5L777.9 524.9L778.8 534.5L779.7 534.5L780.6 533.5L781.4 533.5L782.3 534.5L783.2 533.5L784.1 533.5L785.0 533.5L785.8 533.5L786.7 534.5L787.6 534.5L788.5 534.5L789.3 533.5L790.2 534.5L791.1 533.5L792.0 534.5L792.9 534.5L793.7 534.5L794.6 534.5L795.5 534.5L796.4 534.5L797.2 534.5L798.1 534.5L799.0 533.5L799.9 533.5L800.8 534.5L801.6 534.5L802.5 529.9L803.4 534.5L804.3 534.5L805.2 523.8L806.0 534.5L806.9 517.0L807.8 531.8L808.7 534.5L809.5 533.5L810.4 528.7L811.3 534.5L812.2 534.5L813.1 533.5L813.9 534.5L814.8 534.5L815.7 534.5L816.6 534.5L817.5 516.0L818.3 534.5L819.2 533.5L820.1 534.5L821.0 534.5L821.8 534.5L822.7 527.9L823.6 534.5L824.5 534.5L825.4 534.5L826.2 534.5L827.1 534.5L828.0 534.5L828.9 534.5L829.8 528.3L830.6 533.5L831.5 534.5L832.4 533.5L833.3 525.2L834.1 533.5L835.0 534.5L835.9 533.5L836.8 531.4L837.7 529.8L838.5 526.8L839.4 533.5L840.3 534.5L841.2 533.5L842.1 533.5L842.9 534.5L843.8 533.5L844.7 526.4L845.6 521.2L846.4 523.8L847.3 534.5L848.2 534.5L849.1 517.0L850.0 534.5L850.8 533.5L851.7 533.5L852.6 533.5L853.5 534.5L854.4 533.5L855.2 534.5L856.1 534.5L857.0 534.5L857.9 534.5L858.7 533.5L859.6 533.5L860.5 533.5L861.4 526.7L862.3 530.6L863.1 533.5L864.0 534.5L864.9 534.5L865.8 532.7L866.6 531.5L867.5 534.5L868.4 534.5L869.3 534.5L870.2 533.5L871.0 534.5L871.9 534.5L872.8 533.5L873.7 534.5L874.6 534.5L875.4 534.5L876.3 525.6L877.2 534.5L878.1 533.5L878.9 534.5L879.8 530.7L880.7 534.5L881.6 534.5L882.5 534.5L883.3 533.5L884.2 533.5L885.1 534.5L886.0 534.5L886.9 534.5L887.7 534.5L888.6 534.5L889.5 534.5L890.4 534.5L891.2 534.5L892.1 529.1L893.0 533.5L893.9 525.8L894.8 527.5L895.6 515.0L896.5 533.5L897.4 530.4L898.3 533.5L899.2 530.2L900.0 528.2L900.9 534.5L901.8 533.5L902.7 534.5L903.5 534.5L904.4 534.5L905.3 533.5L906.2 516.0L907.1 534.5L907.9 533.5L908.8 534.5L909.7 534.5L910.6 533.5L911.5 533.5L912.3 534.5L913.2 534.5L914.1 533.5L915.0 518.7L915.8 534.5L916.7 533.5L917.6 532.2L918.5 533.5L919.4 528.2L920.2 534.5L921.1 534.5L922.0 525.7L922.9 522.0L923.8 534.5L924.6 533.5L925.5 534.5L926.4 534.5L927.3 529.7L928.1 528.5L929.0 533.5L929.9 534.5L930.8 534.5L931.7 533.5L932.5 534.5L933.4 534.5L934.3 531.1L935.2 534.5L936.0 533.5L936.9 527.8L937.8 533.5L938.7 508.0L939.6 534.5L940.4 534.5L941.3 533.5L942.2 526.1L943.1 533.5L944.0 534.5L944.8 533.5L945.7 534.5L946.6 534.5L947.5 533.5L948.3 534.5L949.2 534.5L950.1 534.5L951.0 534.5L951.9 534.5L952.7 527.5L953.6 534.5L954.5 533.5L955.4 518.2L956.3 534.5L957.1 534.5L958.0 525.0L958.9 534.5L959.8 533.5L960.6 533.5L961.5 533.5L962.4 534.5L963.3 534.5L964.2 529.0L965.0 534.5L965.9 533.5L966.8 534.5L967.7 534.5L968.6 534.5L969.4 534.5L970.3 530.7L971.2 525.4L972.1 534.5L972.9 533.5L973.8 524.7L974.7 533.5L975.6 534.5L976.5 534.5L977.3 533.5L978.2 520.8L979.1 533.5L980.0 534.5L980.9 529.2L981.7 534.5L982.6 534.5L983.5 533.5L984.4 534.5L985.2 534.5L986.1 534.5L987.0 534.5L987.9 534.5L988.8 533.5L989.6 523.9L990.5 534.5L991.4 534.5L992.3 534.5L993.1 533.5L994.0 534.5L994.9 517.0L995.8 533.5L996.7 534.5L997.5 534.5L998.4 534.5L999.3 534.5L1000.2 534.5L1001.1 533.5L1001.9 534.5L1002.8 534.5L1003.7 532.4L1004.6 533.5L1005.4 534.5L1006.3 527.2L1007.2 534.5L1008.1 534.5L1009.0 527.4L1009.8 533.5L1010.7 527.0L1011.6 534.5L1012.5 525.9L1013.4 534.5L1014.2 528.1L1015.1 533.5L1016.0 533.5L1016.9 534.5L1017.7 534.5L1018.6 533.5L1019.5 533.5L1020.4 530.9L1021.3 534.5L1022.1 533.5L1023.0 533.5L1023.9 534.5L1024.8 523.6L1025.7 533.5L1026.5 534.5L1027.4 534.5L1028.3 530.5L1029.2 534.5L1030.0 533.5L1030.9 534.5L1031.8 534.5L1032.7 530.3L1033.6 534.5L1034.4 534.5L1035.3 529.2L1036.2 534.5L1037.1 533.5L1038.0 534.5L1038.8 534.5L1039.7 534.5L1040.6 533.5L1041.5 533.5L1042.3 534.5L1043.2 534.5L1044.1 524.2L1045.0 528.2L1045.9 528.6L1046.7 534.5L1047.6 522.5L1048.5 533.5L1049.4 534.5L1050.2 524.0L1051.1 527.7L1052.0 533.5L1052.9 533.5L1053.8 533.5L1054.6 533.5L1055.5 534.5L1056.4 533.5L1057.3 534.5L1058.2 534.5L1059.0 534.5L1059.9 534.5L1060.8 533.5L1061.7 534.5L1062.5 534.5L1063.4 522.2L1064.3 534.5L1065.2 533.5L1066.1 534.5L1066.9 534.5L1067.8 534.5L1068.7 504.0L1069.6 520.0L1070.5 533.5L1071.3 534.5L1072.2 534.5L1073.1 527.0L1074.0 529.9L1074.8 533.5L1075.7 516.3L1076.6 533.5L1077.5 533.5L1078.4 534.5L1079.2 534.5L1080.1 534.5L1081.0 533.5L1081.9 534.5L1082.8 533.5L1083.6 527.4L1084.5 533.5L1085.4 533.5L1086.3 534.5L1087.1 534.5L1088.0 534.5L1088.9 533.5L1089.8 533.5L1090.7 534.5L1091.5 522.5L1092.4 534.5L1093.3 534.5L1094.2 533.5L1095.1 534.5L1095.9 534.5L1096.8 533.5L1097.7 534.5L1098.6 533.5L1099.4 533.5L1100.3 534.5L1101.2 533.5L1102.1 534.5L1103.0 533.5L1103.8 534.5L1104.7 533.5L1105.6 526.2L1106.5 533.5L1107.4 534.5L1108.2 520.4L1109.1 534.5L1110.0 528.0L1110.9 522.5L1111.7 533.5L1112.6 534.5L1113.5 533.5L1114.4 534.5L1115.3 516.8L1116.1 534.5L1117.0 534.5L1117.9 533.5L1118.8 533.5L1119.6 534.5L1120.5 534.5L1121.4 533.5L1122.3 515.0L1123.2 534.5L1124.0 533.5L1124.9 534.5L1125.8 534.5L1126.7 534.5L1127.6 533.5L1128.4 533.5L1129.3 534.5L1130.2 525.2L1131.1 530.2L1131.9 531.0L1132.8 534.5L1133.7 534.5L1134.6 534.5L1135.5 521.6L1136.3 532.9L1137.2 534.5L1138.1 533.5L1139.0 534.5L1139.9 528.7L1140.7 533.5L1141.6 533.5L1142.5 533.5L1143.4 534.5L1144.2 534.5L1145.1 521.0L1146.0 533.5L1146.9 534.5L1147.8 533.5L1148.6 530.1L1149.5 534.5L1150.4 534.5L1151.3 533.5L1152.2 534.5L1153.0 534.5L1153.9 534.5L1154.8 534.5L1155.7 534.5L1156.5 503.0L1157.4 520.0L1158.3 533.5L1159.2 516.3L1160.1 534.5L1160.9 532.3L1161.8 530.4L1162.7 523.0L1163.6 534.5L1164.5 533.5L1165.3 534.5L1166.2 533.5L1167.1 534.5L1168.0 533.5L1168.8 533.5L1169.7 533.5L1170.6 534.5L1171.5 534.5L1172.4 534.5L1173.2 534.5L1174.1 534.5L1175.0 534.5L1175.9 534.5L1176.8 525.9L1177.6 534.5L1178.5 534.5L1179.4 533.5L1180.3 533.5L1181.1 534.5L1182.0 533.5L1182.9 534.5L1183.8 534.5L1184.7 534.5L1185.5 521.5L1186.4 526.2L1187.3 534.5L1188.2 534.5L1189.0 534.5L1189.9 534.5L1190.8 534.5L1191.7 532.9L1192.6 533.5L1193.4 533.5L1194.3 524.1L1195.2 533.5L1196.1 534.5L1197.0 534.5L1197.8 534.5L1198.7 533.5L1199.6 534.5L1200.5 534.5L1201.3 533.5L1202.2 534.5L1203.1 533.5L1204.0 534.5L1204.9 534.5L1205.7 534.5L1206.6 533.5L1207.5 531.2L1208.4 533.5L1209.3 534.5L1210.1 534.5L1211.0 534.5L1211.9 534.5L1212.8 528.6L1213.6 534.5L1214.5 527.6L1215.4 534.5L1216.3 530.6L1217.2 534.5L1218.0 533.5L1218.9 533.5L1219.8 533.5L1220.7 522.6L1221.6 527.6L1222.4 534.5L1223.3 533.5L1224.2 534.5L1225.1 534.5L1225.9 534.5L1226.8 534.5L1227.7 534.5L1228.6 523.3L1229.5 534.5L1230.3 534.5L1231.2 534.5L1232.1 534.5L1233.0 534.5L1233.9 534.5L1234.7 534.5L1235.6 534.5L1236.5 530.9L1237.4 533.5L1238.2 518.8L1239.1 533.5L1240.0 527.7L1240.9 533.5L1241.8 534.5L1242.6 525.4L1243.5 534.5L1244.4 534.5L1245.3 534.5L1246.1 533.5L1247.0 534.5L1247.9 533.5L1248.8 534.5L1249.7 533.5L1250.5 534.5L1251.4 534.5L1252.3 534.5L1253.2 534.5L1254.1 534.5L1254.9 526.3L1255.8 533.5L1256.7 533.5L1257.6 533.5L1258.4 534.5L1259.3 530.6L1260.2 534.5L1261.1 534.5L1262.0 533.5L1262.8 534.5L1263.7 529.1L1264.6 534.5L1265.5 533.5L1266.4 533.5L1267.2 534.5L1268.1 533.5L1269.0 515.7L1269.9 533.5L1270.7 533.5L1271.6 534.5L1272.5 534.5L1273.4 527.4L1274.3 517.7L1275.1 534.5L1276.0 532.2L1276.9 527.0L1277.8 522.3L1278.7 533.5L1279.5 528.4L1280.4 534.5L1281.3 534.5L1282.2 533.5L1283.0 523.8L1283.9 534.5L1284.8 524.6L1285.7 533.5L1286.6 530.3L1287.4 534.5L1288.3 533.5L1289.2 528.6L1290.1 526.0L1291.0 534.5L1291.8 534.5L1292.7 534.5L1293.6 504.0L1294.5 519.0L1295.3 534.5L1296.2 534.5L1297.1 534.5L1298.0 534.5L1298.9 534.5L1299.7 534.5L1300.6 533.5L1301.5 534.5L1302.4 521.3L1303.2 534.5L1304.1 534.5L1305.0 534.5L1305.9 534.5L1306.8 533.5L1307.6 532.0L1308.5 534.5L1309.4 533.5L1310.3 534.5L1311.2 534.5L1312.0 534.5L1312.9 534.5L1313.8 534.5L1314.7 517.0L1315.5 534.5L1316.4 534.5L1317.3 534.5L1318.2 529.5L1319.1 528.2L1319.9 534.5L1320.8 533.5L1321.7 523.3L1322.6 529.6L1323.5 534.5L1324.3 525.0L1325.2 534.5L1326.1 533.5L1327.0 534.5L1327.8 533.5L1328.7 531.1L1329.6 534.5L1330.5 533.5L1331.4 534.5L1332.2 534.5L1333.1 534.5L1334.0 533.5L1334.9 534.5L1335.8 530.1L1336.6 533.5L1337.5 533.5L1338.4 534.5L1339.3 534.5L1340.1 534.5L1341.0 534.5L1341.9 534.5L1342.8 533.5L1343.7 526.5L1344.5 526.2L1345.4 534.5L1346.3 534.5L1347.2 524.7L1348.1 533.5L1348.9 517.0L1349.8 534.5L1350.7 524.8L1351.6 534.5L1352.4 534.5L1353.3 534.5L1354.2 527.4L1355.1 532.3L1356.0 534.5L1356.8 534.5L1357.7 533.5L1358.6 534.5L1359.5 534.5L1360.4 534.5L1361.2 534.5L1362.1 534.5L1363.0 533.5L1363.9 526.7L1364.7 534.5L1365.6 534.5" stroke="#00c000" stroke-width="1" fill="none" stroke-linejoin="miter" stroke-miterlimit="10"/>
<path d="M103 535.5H150M207 535.5H1362" stroke="#00c000" stroke-width="1" fill="none"/>
<path d="M1288.0 110.5H1345.0" stroke="#0080ff" stroke-width="1" fill="none"/>
<path d="M101.5 535.5L102.4 534.5L103.3 534.5L104.1 534.5L105.0 527.5L105.9 525.5L106.8 525.5L107.6 526.5L108.5 535.5L109.4 535.5L110.3 534.5L111.2 534.5L112.0 527.5L112.9 525.5L113.8 525.5L114.7 526.5L115.6 534.5L116.4 534.5L117.3 535.5L118.2 535.5L119.1 528.5L119.9 526.5L120.8 526.5L121.7 527.5L122.6 535.5L123.5 534.5L124.3 534.5L125.2 534.5L126.1 534.5L127.0 527.5L127.9 525.5L128.7 525.5L129.6 526.5L130.5 535.5L131.4 534.5L132.2 535.5L133.1 534.5L134.0 535.5L134.9 526.5L135.8 524.5L136.6 524.5L137.5 524.5L138.4 525.5L139.3 535.5L140.2 534.5L141.0 535.5L141.9 535.5L142.8 535.5L143.7 525.5L144.5 523.5L145.4 523.5L146.3 524.5L147.2 535.5L148.1 534.5L148.9 535.5L149.8 534.5L150.7 535.5L151.6 535.5L152.5 535.5L153.3 531.5L154.2 535.5L206.9 535.5L207.8 535.5L208.7 535.5L209.6 535.5L210.4 535.5L211.3 529.5L212.2 527.5L213.1 527.5L213.9 527.5L214.8 528.5L215.7 534.5L216.6 534.5L217.5 534.5L218.3 534.5L219.2 527.5L220.1 525.5L221.0 526.5L221.9 535.5L222.7 535.5L223.6 534.5L224.5 535.5L225.4 526.5L226.2 524.5L227.1 524.5L228.0 524.5L228.9 525.5L229.8 535.5L230.6 535.5L231.5 535.5L232.4 535.5L233.3 528.5L234.1 526.5L235.0 526.5L235.9 527.5L236.8 535.5L237.7 535.5L238.5 535.5L239.4 535.5L240.3 535.5L241.2 534.5L242.1 528.5L242.9 526.5L243.8 526.5L244.7 527.5L245.6 535.5L246.4 535.5L247.3 535.5L248.2 535.5L249.1 535.5L250.0 526.5L250.8 524.5L251.7 525.5L252.6 535.5L253.5 535.5L254.4 535.5L255.2 535.5L256.1 534.5L257.0 526.5L257.9 524.5L258.7 524.5L259.6 525.5L260.5 535.5L261.4 534.5L262.3 535.5L263.1 535.5L264.0 534.5L264.9 535.5L265.8 528.5L266.7 526.5L267.5 527.5L268.4 535.5L269.3 535.5L270.2 535.5L271.0 535.5L271.9 535.5L272.8 528.5L273.7 526.5L274.6 526.5L275.4 527.5L276.3 535.5L277.2 534.5L278.1 534.5L279.0 535.5L279.8 534.5L280.7 523.5L281.6 521.5L282.5 521.5L283.3 522.5L284.2 534.5L285.1 535.5L286.0 535.5L286.9 535.5L287.7 534.5L288.6 534.5L289.5 527.5L290.4 525.5L291.2 525.5L292.1 526.5L293.0 535.5L293.9 534.5L294.8 535.5L295.6 534.5L296.5 534.5L297.4 535.5L298.3 524.5L299.2 522.5L300.0 522.5L300.9 522.5L301.8 523.5L302.7 534.5L303.5 534.5L304.4 535.5L305.3 535.5L306.2 535.5L307.1 535.5L307.9 530.5L308.8 528.5L309.7 529.5L310.6 535.5L311.5 535.5L312.3 535.5L313.2 535.5L314.1 530.5L315.0 528.5L315.8 528.5L316.7 529.5L317.6 535.5L318.5 535.5L319.4 535.5L320.2 535.5L321.1 535.5L322.0 530.5L322.9 528.5L323.8 529.5L324.6 535.5L325.5 535.5L326.4 534.5L327.3 535.5L328.1 530.5L329.0 528.5L329.9 528.5L330.8 529.5L331.7 535.5L332.5 535.5L333.4 534.5L334.3 534.5L335.2 535.5L336.1 526.5L336.9 524.5L337.8 524.5L338.7 524.5L339.6 525.5L340.4 532.5L341.3 534.5L342.2 535.5L343.1 535.5L344.0 529.5L344.8 527.5L345.7 528.5L346.6 535.5L347.5 534.5L348.4 535.5L349.2 535.5L350.1 527.5L351.0 525.5L351.9 525.5L352.7 526.5L353.6 535.5L354.5 535.5L355.4 535.5L356.3 535.5L357.1 535.5L358.0 535.5L358.9 527.5L359.8 525.5L360.6 526.5L361.5 535.5L362.4 535.5L363.3 534.5L364.2 535.5L365.0 535.5L365.9 535.5L366.8 528.5L367.7 526.5L368.6 526.5L369.4 526.5L370.3 527.5L371.2 534.5L372.1 534.5L372.9 535.5L373.8 534.5L374.7 534.5L375.6 527.5L376.5 525.5L377.3 525.5L378.2 526.5L379.1 535.5L380.0 535.5L380.9 535.5L381.7 534.5L382.6 532.5L383.5 528.5L384.4 526.5L385.2 527.5L386.1 535.5L387.0 534.5L387.9 534.5L388.8 535.5L389.6 535.5L390.5 527.5L391.4 525.5L392.3 525.5L393.2 526.5L394.0 535.5L394.9 535.5L395.8 535.5L396.7 535.5L397.5 535.5L398.4 535.5L399.3 529.5L400.2 527.5L401.1 528.5L401.9 535.5L402.8 535.5L403.7 535.5L404.6 535.5L405.5 531.5L406.3 527.5L407.2 525.5L408.1 526.5L409.0 535.5L409.8 535.5L410.7 535.5L411.6 535.5L412.5 528.5L413.4 526.5L414.2 526.5L415.1 526.5L416.0 527.5L416.9 535.5L417.8 535.5L418.6 535.5L419.5 535.5L420.4 534.5L421.3 534.5L422.1 527.5L423.0 525.5L423.9 525.5L424.8 525.5L425.7 526.5L426.5 534.5L427.4 535.5L428.3 534.5L429.2 534.5L430.0 535.5L430.9 526.5L431.8 524.5L432.7 524.5L433.6 525.5L434.4 534.5L435.3 535.5L436.2 535.5L437.1 535.5L438.0 535.5L438.8 535.5L439.7 529.5L440.6 527.5L441.5 527.5L442.3 528.5L443.2 535.5L444.1 535.5L445.0 535.5L445.9 534.5L446.7 535.5L447.6 535.5L448.5 526.5L449.4 524.5L450.3 524.5L451.1 525.5L452.0 534.5L452.9 535.5L453.8 535.5L454.6 534.5L455.5 535.5L456.4 535.5L457.3 527.5L458.2 525.5L459.0 526.5L459.9 534.5L460.8 535.5L461.7 534.5L462.6 534.5L463.4 535.5L464.3 529.5L465.2 527.5L466.1 528.5L466.9 535.5L467.8 535.5L468.7 534.5L469.6 535.5L470.5 535.5L471.3 530.5L472.2 528.5L473.1 528.5L474.0 528.5L474.9 529.5L475.7 535.5L476.6 534.5L477.5 535.5L478.4 535.5L479.2 528.5L480.1 526.5L481.0 526.5L481.9 526.5L482.8 527.5L483.6 530.5L484.5 535.5L485.4 534.5L486.3 534.5L487.1 530.5L488.0 528.5L488.9 528.5L489.8 529.5L490.7 535.5L491.5 535.5L492.4 535.5L493.3 535.5L494.2 535.5L495.1 527.5L495.9 525.5L496.8 525.5L497.7 526.5L498.6 535.5L499.4 534.5L500.3 535.5L501.2 535.5L502.1 535.5L503.0 535.5L503.8 527.5L504.7 525.5L505.6 526.5L506.5 535.5L507.4 535.5L508.2 534.5L509.1 534.5L510.0 535.5L510.9 527.5L511.7 525.5L512.6 525.5L513.5 525.5L514.4 526.5L515.3 535.5L516.1 535.5L517.0 535.5L517.9 535.5L518.8 535.5L519.7 535.5L520.5 528.5L521.4 526.5L522.3 527.5L523.2 535.5L524.0 534.5L524.9 535.5L525.8 535.5L526.7 535.5L527.6 535.5L528.4 527.5L529.3 525.5L530.2 526.5L531.1 535.5L532.0 535.5L532.8 535.5L533.7 534.5L534.6 535.5L535.5 523.5L536.3 521.5L537.2 521.5L538.1 521.5L539.0 522.5L539.9 535.5L540.7 534.5L541.6 535.5L542.5 535.5L543.4 535.5L544.2 526.5L545.1 524.5L546.0 524.5L546.9 524.5L547.8 525.5L548.6 534.5L549.5 535.5L550.4 535.5L551.3 534.5L552.2 535.5L553.0 528.5L553.9 526.5L554.8 527.5L555.7 535.5L556.5 535.5L557.4 535.5L558.3 535.5L559.2 535.5L560.1 535.5L560.9 529.5L561.8 527.5L562.7 527.5L563.6 528.5L564.5 535.5L565.3 535.5L566.2 535.5L567.1 530.5L568.0 535.5L568.8 530.5L569.7 528.5L570.6 528.5L571.5 529.5L572.4 535.5L573.2 535.5L574.1 535.5L575.0 535.5L575.9 527.5L576.8 525.5L577.6 525.5L578.5 526.5L579.4 535.5L580.3 535.5L581.1 535.5L582.0 535.5L582.9 535.5L583.8 528.5L584.7 526.5L585.5 527.5L586.4 535.5L587.3 535.5L588.2 535.5L589.1 535.5L589.9 535.5L590.8 522.5L591.7 520.5L592.6 520.5L593.4 520.5L594.3 521.5L595.2 534.5L596.1 535.5L597.0 535.5L597.8 535.5L598.7 534.5L599.6 526.5L600.5 524.5L601.4 524.5L602.2 524.5L603.1 525.5L604.0 535.5L604.9 535.5L605.7 535.5L606.6 535.5L607.5 528.5L608.4 526.5L609.3 526.5L610.1 527.5L611.0 535.5L611.9 535.5L612.8 535.5L613.6 535.5L614.5 535.5L615.4 527.5L616.3 525.5L617.2 525.5L618.0 525.5L618.9 526.5L619.8 535.5L620.7 535.5L621.6 534.5L622.4 535.5L623.3 535.5L624.2 528.5L625.1 526.5L625.9 526.5L626.8 527.5L627.7 535.5L628.6 534.5L629.5 535.5L630.3 534.5L631.2 527.5L632.1 525.5L633.0 525.5L633.9 525.5L634.7 526.5L635.6 535.5L636.5 535.5L637.4 535.5L638.2 535.5L639.1 534.5L640.0 527.5L640.9 525.5L641.8 526.5L642.6 535.5L643.5 535.5L644.4 535.5L645.3 535.5L646.2 535.5L647.0 527.5L647.9 525.5L648.8 525.5L649.7 525.5L650.5 526.5L651.4 535.5L652.3 535.5L653.2 534.5L654.1 535.5L654.9 521.5L655.8 519.5L656.7 520.5L657.6 535.5L658.5 535.5L659.3 534.5L660.2 535.5L661.1 526.5L662.0 524.5L662.8 524.5L663.7 524.5L664.6 525.5L665.5 535.5L666.4 534.5L667.2 535.5L668.1 534.5L669.0 535.5L669.9 527.5L670.8 525.5L671.6 525.5L672.5 526.5L673.4 535.5L674.3 535.5L675.1 535.5L676.0 535.5L676.9 526.5L677.8 524.5L678.7 524.5L679.5 524.5L680.4 525.5L681.3 535.5L682.2 535.5L683.0 535.5L683.9 535.5L684.8 527.5L685.7 525.5L686.6 525.5L687.4 526.5L688.3 535.5L689.2 535.5L690.1 535.5L691.0 535.5L691.8 535.5L692.7 526.5L693.6 524.5L694.5 524.5L695.3 524.5L696.2 525.5L697.1 535.5L698.0 535.5L698.9 535.5L699.7 535.5L700.6 529.5L701.5 527.5L702.4 527.5L703.3 528.5L704.1 535.5L705.0 535.5L705.9 535.5L706.8 534.5L707.6 526.5L708.5 524.5L709.4 524.5L710.3 525.5L711.2 535.5L712.0 535.5L712.9 535.5L713.8 535.5L714.7 534.5L715.6 535.5L716.4 527.5L717.3 525.5L718.2 525.5L719.1 526.5L719.9 535.5L720.8 534.5L721.7 534.5L722.6 534.5L723.5 528.5L724.3 526.5L725.2 526.5L726.1 527.5L727.0 535.5L727.9 534.5L728.7 535.5L729.6 535.5L730.5 535.5L731.4 535.5L732.2 530.5L733.1 528.5L734.0 528.5L734.9 529.5L735.8 534.5L736.6 535.5L737.5 535.5L738.4 534.5L739.3 535.5L740.1 528.5L741.0 526.5L741.9 527.5L742.8 535.5L743.7 529.5L744.5 535.5L745.4 534.5L746.3 535.5L747.2 525.5L748.1 523.5L748.9 523.5L749.8 524.5L750.7 535.5L751.6 535.5L752.4 535.5L753.3 536.5L754.2 528.5L755.1 527.5L756.0 536.5L756.8 535.5L757.7 531.5L758.6 535.5L759.5 528.5L760.4 527.5L761.2 534.5L762.1 535.5L763.0 535.5L763.9 535.5L764.7 530.5L765.6 527.5L766.5 525.5L767.4 526.5L768.3 535.5L769.1 536.5L770.0 535.5L770.9 532.5L771.8 529.5L772.7 522.5L773.5 520.5L774.4 521.5L775.3 536.5L776.2 534.5L777.0 535.5L777.9 535.5L778.8 535.5L779.7 535.5L780.6 521.5L781.4 519.5L782.3 519.5L783.2 520.5L784.1 535.5L785.0 534.5L785.8 536.5L786.7 535.5L787.6 526.5L788.5 524.5L789.3 524.5L790.2 525.5L791.1 536.5L792.0 532.5L792.9 534.5L793.7 534.5L794.6 535.5L795.5 526.5L796.4 524.5L797.2 525.5L798.1 535.5L799.0 534.5L799.9 536.5L800.8 535.5L801.6 535.5L802.5 535.5L803.4 528.5L804.3 526.5L805.2 527.5L806.0 535.5L806.9 535.5L807.8 536.5L808.7 535.5L809.5 534.5L810.4 525.5L811.3 523.5L812.2 524.5L813.1 534.5L813.9 536.5L814.8 534.5L815.7 535.5L816.6 525.5L817.5 523.5L818.3 524.5L819.2 536.5L820.1 535.5L821.0 534.5L821.8 535.5L822.7 536.5L823.6 526.5L824.5 524.5L825.4 525.5L826.2 535.5L827.1 536.5L828.0 534.5L828.9 536.5L829.8 534.5L830.6 536.5L831.5 525.5L832.4 523.5L833.3 524.5L834.1 536.5L835.0 534.5L835.9 536.5L836.8 534.5L837.7 528.5L838.5 527.5L839.4 534.5L840.3 535.5L841.2 535.5L842.1 535.5L842.9 535.5L843.8 525.5L844.7 523.5L845.6 523.5L846.4 524.5L847.3 534.5L848.2 535.5L849.1 535.5L850.0 535.5L850.8 524.5L851.7 522.5L852.6 523.5L853.5 535.5L854.4 536.5L855.2 535.5L856.1 536.5L857.0 526.5L857.9 524.5L858.7 524.5L859.6 525.5L860.5 534.5L861.4 530.5L862.3 534.5L863.1 536.5L864.0 526.5L864.9 525.5L865.8 535.5L866.6 535.5L867.5 535.5L868.4 535.5L869.3 534.5L870.2 535.5L871.0 524.5L871.9 522.5L872.8 523.5L873.7 536.5L874.6 535.5L875.4 536.5L876.3 535.5L877.2 536.5L878.1 525.5L878.9 524.5L879.8 536.5L880.7 535.5L881.6 535.5L882.5 536.5L883.3 535.5L884.2 525.5L885.1 523.5L886.0 524.5L886.9 535.5L887.7 535.5L888.6 536.5L889.5 535.5L890.4 535.5L891.2 535.5L892.1 526.5L893.0 525.5L893.9 535.5L894.8 536.5L895.6 536.5L896.5 536.5L897.4 526.5L898.3 525.5L899.2 535.5L900.0 536.5L900.9 535.5L901.8 535.5L902.7 536.5L903.5 526.5L904.4 524.5L905.3 524.5L906.2 525.5L907.1 532.5L907.9 535.5L908.8 536.5L909.7 534.5L910.6 526.5L911.5 524.5L912.3 524.5L913.2 525.5L914.1 532.5L915.0 535.5L915.8 535.5L916.7 535.5L917.6 535.5L918.5 528.5L919.4 526.5L920.2 527.5L921.1 536.5L922.0 536.5L922.9 534.5L923.8 536.5L924.6 526.5L925.5 524.5L926.4 525.5L927.3 535.5L928.1 534.5L929.0 534.5L929.9 535.5L930.8 525.5L931.7 523.5L932.5 524.5L933.4 529.5L934.3 534.5L935.2 535.5L936.0 535.5L936.9 525.5L937.8 524.5L938.7 535.5L939.6 536.5L940.4 535.5L941.3 535.5L942.2 535.5L943.1 535.5L944.0 526.5L944.8 524.5L945.7 524.5L946.6 525.5L947.5 536.5L948.3 534.5L949.2 536.5L950.1 535.5L951.0 535.5L951.9 524.5L952.7 522.5L953.6 523.5L954.5 535.5L955.4 534.5L956.3 529.5L957.1 535.5L958.0 536.5L958.9 527.5L959.8 525.5L960.6 526.5L961.5 535.5L962.4 534.5L963.3 535.5L964.2 535.5L965.0 536.5L965.9 525.5L966.8 523.5L967.7 524.5L968.6 534.5L969.4 536.5L970.3 536.5L971.2 534.5L972.1 524.5L972.9 522.5L973.8 523.5L974.7 535.5L975.6 535.5L976.5 535.5L977.3 536.5L978.2 528.5L979.1 526.5L980.0 526.5L980.9 527.5L981.7 534.5L982.6 535.5L983.5 535.5L984.4 535.5L985.2 535.5L986.1 526.5L987.0 524.5L987.9 524.5L988.8 525.5L989.6 535.5L990.5 535.5L991.4 534.5L992.3 534.5L993.1 535.5L994.0 526.5L994.9 524.5L995.8 524.5L996.7 525.5L997.5 535.5L998.4 535.5L999.3 534.5L1000.2 534.5L1001.1 534.5L1001.9 524.5L1002.8 522.5L1003.7 523.5L1004.6 534.5L1005.4 535.5L1006.3 534.5L1007.2 535.5L1008.1 524.5L1009.0 523.5L1009.8 532.5L1010.7 534.5L1011.6 535.5L1012.5 535.5L1013.4 535.5L1014.2 525.5L1015.1 523.5L1016.0 523.5L1016.9 524.5L1017.7 535.5L1018.6 535.5L1019.5 535.5L1020.4 536.5L1021.3 525.5L1022.1 524.5L1023.0 536.5L1023.9 535.5L1024.8 529.5L1025.7 534.5L1026.5 536.5L1027.4 526.5L1028.3 524.5L1029.2 525.5L1030.0 536.5L1030.9 535.5L1031.8 535.5L1032.7 535.5L1033.6 526.5L1034.4 524.5L1035.3 525.5L1036.2 534.5L1037.1 535.5L1038.0 535.5L1038.8 535.5L1039.7 527.5L1040.6 526.5L1041.5 534.5L1042.3 536.5L1043.2 534.5L1044.1 534.5L1045.0 536.5L1045.9 526.5L1046.7 524.5L1047.6 524.5L1048.5 525.5L1049.4 530.5L1050.2 536.5L1051.1 536.5L1052.0 536.5L1052.9 527.5L1053.8 525.5L1054.6 526.5L1055.5 536.5L1056.4 534.5L1057.3 536.5L1058.2 535.5L1059.0 534.5L1059.9 525.5L1060.8 523.5L1061.7 523.5L1062.5 524.5L1063.4 536.5L1064.3 536.5L1065.2 535.5L1066.1 536.5L1066.9 527.5L1067.8 525.5L1068.7 526.5L1069.6 534.5L1070.5 535.5L1071.3 534.5L1072.2 534.5L1073.1 536.5L1074.0 525.5L1074.8 523.5L1075.7 524.5L1076.6 534.5L1077.5 534.5L1078.4 535.5L1079.2 536.5L1080.1 526.5L1081.0 524.5L1081.9 524.5L1082.8 525.5L1083.6 535.5L1084.5 536.5L1085.4 535.5L1086.3 535.5L1087.1 536.5L1088.0 528.5L1088.9 526.5L1089.8 526.5L1090.7 527.5L1091.5 535.5L1092.4 536.5L1093.3 534.5L1094.2 534.5L1095.1 535.5L1095.9 524.5L1096.8 522.5L1097.7 523.5L1098.6 534.5L1099.4 536.5L1100.3 535.5L1101.2 535.5L1102.1 536.5L1103.0 527.5L1103.8 525.5L1104.7 526.5L1105.6 536.5L1106.5 535.5L1107.4 535.5L1108.2 535.5L1109.1 535.5L1110.0 525.5L1110.9 524.5L1111.7 534.5L1112.6 535.5L1113.5 536.5L1114.4 535.5L1115.3 535.5L1116.1 526.5L1117.0 524.5L1117.9 524.5L1118.8 525.5L1119.6 535.5L1120.5 536.5L1121.4 535.5L1122.3 535.5L1123.2 523.5L1124.0 522.5L1124.9 535.5L1125.8 535.5L1126.7 535.5L1127.6 535.5L1128.4 528.5L1129.3 526.5L1130.2 527.5L1131.1 535.5L1131.9 534.5L1132.8 535.5L1133.7 536.5L1134.6 526.5L1135.5 524.5L1136.3 525.5L1137.2 534.5L1138.1 535.5L1139.0 534.5L1139.9 534.5L1140.7 534.5L1141.6 524.5L1142.5 522.5L1143.4 523.5L1144.2 534.5L1145.1 534.5L1146.0 534.5L1146.9 534.5L1147.8 526.5L1148.6 524.5L1149.5 525.5L1150.4 536.5L1151.3 534.5L1152.2 535.5L1153.0 534.5L1153.9 535.5L1154.8 521.5L1155.7 520.5L1156.5 535.5L1157.4 535.5L1158.3 534.5L1159.2 536.5L1160.1 534.5L1160.9 528.5L1161.8 527.5L1162.7 536.5L1163.6 534.5L1164.5 536.5L1165.3 530.5L1166.2 535.5L1167.1 527.5L1168.0 525.5L1168.8 526.5L1169.7 535.5L1170.6 536.5L1171.5 535.5L1172.4 536.5L1173.2 534.5L1174.1 536.5L1175.0 527.5L1175.9 525.5L1176.8 525.5L1177.6 526.5L1178.5 529.5L1179.4 532.5L1180.3 536.5L1181.1 535.5L1182.0 536.5L1182.9 525.5L1183.8 523.5L1184.7 523.5L1185.5 524.5L1186.4 536.5L1187.3 535.5L1188.2 534.5L1189.0 534.5L1189.9 535.5L1190.8 525.5L1191.7 523.5L1192.6 524.5L1193.4 535.5L1194.3 535.5L1195.2 530.5L1196.1 536.5L1197.0 528.5L1197.8 526.5L1198.7 527.5L1199.6 534.5L1200.5 535.5L1201.3 535.5L1202.2 534.5L1203.1 523.5L1204.0 522.5L1204.9 536.5L1205.7 534.5L1206.6 534.5L1207.5 535.5L1208.4 535.5L1209.3 524.5L1210.1 522.5L1211.0 523.5L1211.9 535.5L1212.8 536.5L1213.6 531.5L1214.5 534.5L1215.4 535.5L1216.3 534.5L1217.2 525.5L1218.0 523.5L1218.9 524.5L1219.8 535.5L1220.7 535.5L1221.6 534.5L1222.4 535.5L1223.3 535.5L1224.2 525.5L1225.1 523.5L1225.9 523.5L1226.8 524.5L1227.7 536.5L1228.6 535.5L1229.5 535.5L1230.3 536.5L1231.2 534.5L1232.1 536.5L1233.0 525.5L1233.9 524.5L1234.7 535.5L1235.6 535.5L1236.5 535.5L1237.4 535.5L1238.2 535.5L1239.1 525.5L1240.0 523.5L1240.9 524.5L1241.8 536.5L1242.6 535.5L1243.5 536.5L1244.4 536.5L1245.3 536.5L1246.1 534.5L1247.0 525.5L1247.9 523.5L1248.8 524.5L1249.7 536.5L1250.5 535.5L1251.4 535.5L1252.3 535.5L1253.2 535.5L1254.1 527.5L1254.9 525.5L1255.8 526.5L1256.7 535.5L1257.6 535.5L1258.4 534.5L1259.3 534.5L1260.2 528.5L1261.1 526.5L1262.0 526.5L1262.8 527.5L1263.7 535.5L1264.6 535.5L1265.5 535.5L1266.4 535.5L1267.2 536.5L1268.1 534.5L1269.0 524.5L1269.9 523.5L1270.7 535.5L1271.6 536.5L1272.5 536.5L1273.4 536.5L1274.3 527.5L1275.1 525.5L1276.0 526.5L1276.9 536.5L1277.8 536.5L1278.7 535.5L1279.5 535.5L1280.4 535.5L1281.3 525.5L1282.2 523.5L1283.0 523.5L1283.9 524.5L1284.8 536.5L1285.7 536.5L1286.6 534.5L1287.4 536.5L1288.3 535.5L1289.2 535.5L1290.1 526.5L1291.0 525.5L1291.8 536.5L1292.7 536.5L1293.6 534.5L1294.5 535.5L1295.3 528.5L1296.2 527.5L1297.1 535.5L1298.0 534.5L1298.9 535.5L1299.7 535.5L1300.6 534.5L1301.5 523.5L1302.4 521.5L1303.2 521.5L1304.1 522.5L1305.0 535.5L1305.9 534.5L1306.8 535.5L1307.6 535.5L1308.5 535.5L1309.4 527.5L1310.3 525.5L1311.2 526.5L1312.0 535.5L1312.9 535.5L1313.8 536.5L1314.7 535.5L1315.5 534.5L1316.4 525.5L1317.3 523.5L1318.2 524.5L1319.1 534.5L1319.9 534.5L1320.8 536.5L1321.7 535.5L1322.6 524.5L1323.5 523.5L1324.3 535.5L1325.2 534.5L1326.1 534.5L1327.0 529.5L1327.8 526.5L1328.7 524.5L1329.6 525.5L1330.5 535.5L1331.4 535.5L1332.2 535.5L1333.1 529.5L1334.0 535.5L1334.9 526.5L1335.8 524.5L1336.6 525.5L1337.5 536.5L1338.4 534.5L1339.3 535.5L1340.1 534.5L1341.0 535.5L1341.9 525.5L1342.8 523.5L1343.7 524.5L1344.5 534.5L1345.4 535.5L1346.3 535.5L1347.2 535.5L1348.1 536.5L1348.9 524.5L1349.8 523.5L1350.7 535.5L1351.6 535.5L1352.4 535.5L1353.3 534.5L1354.2 536.5L1355.1 525.5L1356.0 524.5L1356.8 534.5L1357.7 536.5L1358.6 535.5L1359.5 534.5L1360.4 535.5L1361.2 525.5L1362.1 524.5L1363.0 535.5L1363.9 536.5L1364.7 535.5L1365.6 535.5" stroke="#0080ff" stroke-width="1" fill="none" stroke-linejoin="round"/>
<path d="M372 533.5H527M527 532.5H732M732 531.5H912M912 530.5H1090M1090 529.5H1362.5M1272 528.5H1362.5M1362.5 528V535" stroke="#0080ff" stroke-width="1" fill="none"/>
<rect x="1310.5" y="123.5" width="12" height="12" fill="none" stroke="#c000ff" stroke-width="1"/>
<rect x="1310.0" y="142.0" width="13" height="13" fill="#00eeee"/>
<rect x="527.0" y="481.0" width="13" height="13" fill="#00eeee"/>
<rect x="1081.0" y="481.0" width="13" height="13" fill="#00eeee"/>
<circle cx="1316.5" cy="167.5" r="5.0" fill="none" stroke="#c04000" stroke-width="1.4" shape-rendering="geometricPrecision"/><path d="M1311.5 167.5h-1.5M1321.5 167.5h1.5M1316.5 162.5v-1.5M1316.5 172.5v1.5" stroke="#c04000" stroke-width="1" fill="none"/>
<circle cx="103.2" cy="471.4" r="5.0" fill="none" stroke="#c04000" stroke-width="1.4" shape-rendering="geometricPrecision"/><path d="M98.2 471.4h-1.5M108.2 471.4h1.5M103.2 466.4v-1.5M103.2 476.4v1.5" stroke="#c04000" stroke-width="1" fill="none"/>
<circle cx="149.3" cy="470.6" r="5.0" fill="none" stroke="#c04000" stroke-width="1.4" shape-rendering="geometricPrecision"/><path d="M144.3 470.6h-1.5M154.3 470.6h1.5M149.3 465.6v-1.5M149.3 475.6v1.5" stroke="#c04000" stroke-width="1" fill="none"/>
<circle cx="208.3" cy="515.3" r="5.0" fill="none" stroke="#c04000" stroke-width="1.4" shape-rendering="geometricPrecision"/><path d="M203.3 515.3h-1.5M213.3 515.3h1.5M208.3 510.3v-1.5M208.3 520.3v1.5" stroke="#c04000" stroke-width="1" fill="none"/>
<circle cx="255.3" cy="515.3" r="5.0" fill="none" stroke="#c04000" stroke-width="1.4" shape-rendering="geometricPrecision"/><path d="M250.3 515.3h-1.5M260.3 515.3h1.5M255.3 510.3v-1.5M255.3 520.3v1.5" stroke="#c04000" stroke-width="1" fill="none"/>
<circle cx="261.6" cy="514.5" r="5.0" fill="none" stroke="#c04000" stroke-width="1.4" shape-rendering="geometricPrecision"/><path d="M256.6 514.5h-1.5M266.6 514.5h1.5M261.6 509.5v-1.5M261.6 519.5v1.5" stroke="#c04000" stroke-width="1" fill="none"/>
<circle cx="307.6" cy="471.4" r="5.0" fill="none" stroke="#c04000" stroke-width="1.4" shape-rendering="geometricPrecision"/><path d="M302.6 471.4h-1.5M312.6 471.4h1.5M307.6 466.4v-1.5M307.6 476.4v1.5" stroke="#c04000" stroke-width="1" fill="none"/>
<circle cx="314.4" cy="516.2" r="5.0" fill="none" stroke="#c04000" stroke-width="1.4" shape-rendering="geometricPrecision"/><path d="M309.4 516.2h-1.5M319.4 516.2h1.5M314.4 511.2v-1.5M314.4 521.2v1.5" stroke="#c04000" stroke-width="1" fill="none"/>
<circle cx="360.4" cy="499.7" r="5.0" fill="none" stroke="#c04000" stroke-width="1.4" shape-rendering="geometricPrecision"/><path d="M355.4 499.7h-1.5M365.4 499.7h1.5M360.4 494.7v-1.5M360.4 504.7v1.5" stroke="#c04000" stroke-width="1" fill="none"/>
<circle cx="366.7" cy="500.2" r="5.0" fill="none" stroke="#c04000" stroke-width="1.4" shape-rendering="geometricPrecision"/><path d="M361.7 500.2h-1.5M371.7 500.2h1.5M366.7 495.2v-1.5M366.7 505.2v1.5" stroke="#c04000" stroke-width="1" fill="none"/>
<circle cx="413.3" cy="502.3" r="5.0" fill="none" stroke="#c04000" stroke-width="1.4" shape-rendering="geometricPrecision"/><path d="M408.3 502.3h-1.5M418.3 502.3h1.5M413.3 497.3v-1.5M413.3 507.3v1.5" stroke="#c04000" stroke-width="1" fill="none"/>
<circle cx="419.7" cy="500.2" r="5.0" fill="none" stroke="#c04000" stroke-width="1.4" shape-rendering="geometricPrecision"/><path d="M414.7 500.2h-1.5M424.7 500.2h1.5M419.7 495.2v-1.5M419.7 505.2v1.5" stroke="#c04000" stroke-width="1" fill="none"/>
<circle cx="466.5" cy="470.6" r="5.0" fill="none" stroke="#c04000" stroke-width="1.4" shape-rendering="geometricPrecision"/><path d="M461.5 470.6h-1.5M471.5 470.6h1.5M466.5 465.6v-1.5M466.5 475.6v1.5" stroke="#c04000" stroke-width="1" fill="none"/>
<circle cx="472.1" cy="500.6" r="5.0" fill="none" stroke="#c04000" stroke-width="1.4" shape-rendering="geometricPrecision"/><path d="M467.1 500.6h-1.5M477.1 500.6h1.5M472.1 495.6v-1.5M472.1 505.6v1.5" stroke="#c04000" stroke-width="1" fill="none"/>
<circle cx="518.4" cy="471.4" r="5.0" fill="none" stroke="#c04000" stroke-width="1.4" shape-rendering="geometricPrecision"/><path d="M513.4 471.4h-1.5M523.4 471.4h1.5M518.4 466.4v-1.5M518.4 476.4v1.5" stroke="#c04000" stroke-width="1" fill="none"/>
<circle cx="524.8" cy="470.6" r="5.0" fill="none" stroke="#c04000" stroke-width="1.4" shape-rendering="geometricPrecision"/><path d="M519.8 470.6h-1.5M529.8 470.6h1.5M524.8 465.6v-1.5M524.8 475.6v1.5" stroke="#c04000" stroke-width="1" fill="none"/>
<circle cx="570.7" cy="500.2" r="5.0" fill="none" stroke="#c04000" stroke-width="1.4" shape-rendering="geometricPrecision"/><path d="M565.7 500.2h-1.5M575.7 500.2h1.5M570.7 495.2v-1.5M570.7 505.2v1.5" stroke="#c04000" stroke-width="1" fill="none"/>
<circle cx="577.6" cy="499.7" r="5.0" fill="none" stroke="#c04000" stroke-width="1.4" shape-rendering="geometricPrecision"/><path d="M572.6 499.7h-1.5M582.6 499.7h1.5M577.6 494.7v-1.5M577.6 504.7v1.5" stroke="#c04000" stroke-width="1" fill="none"/>
<circle cx="624.4" cy="515.3" r="5.0" fill="none" stroke="#c04000" stroke-width="1.4" shape-rendering="geometricPrecision"/><path d="M619.4 515.3h-1.5M629.4 515.3h1.5M624.4 510.3v-1.5M624.4 520.3v1.5" stroke="#c04000" stroke-width="1" fill="none"/>
<circle cx="630.7" cy="515.3" r="5.0" fill="none" stroke="#c04000" stroke-width="1.4" shape-rendering="geometricPrecision"/><path d="M625.7 515.3h-1.5M635.7 515.3h1.5M630.7 510.3v-1.5M630.7 520.3v1.5" stroke="#c04000" stroke-width="1" fill="none"/>
<circle cx="676.5" cy="470.6" r="5.0" fill="none" stroke="#c04000" stroke-width="1.4" shape-rendering="geometricPrecision"/><path d="M671.5 470.6h-1.5M681.5 470.6h1.5M676.5 465.6v-1.5M676.5 475.6v1.5" stroke="#c04000" stroke-width="1" fill="none"/>
<circle cx="683.3" cy="500.6" r="5.0" fill="none" stroke="#c04000" stroke-width="1.4" shape-rendering="geometricPrecision"/><path d="M678.3 500.6h-1.5M688.3 500.6h1.5M683.3 495.6v-1.5M683.3 505.6v1.5" stroke="#c04000" stroke-width="1" fill="none"/>
<circle cx="729.5" cy="500.6" r="5.0" fill="none" stroke="#c04000" stroke-width="1.4" shape-rendering="geometricPrecision"/><path d="M724.5 500.6h-1.5M734.5 500.6h1.5M729.5 495.6v-1.5M729.5 505.6v1.5" stroke="#c04000" stroke-width="1" fill="none"/>
<circle cx="735.3" cy="515.3" r="5.0" fill="none" stroke="#c04000" stroke-width="1.4" shape-rendering="geometricPrecision"/><path d="M730.3 515.3h-1.5M740.3 515.3h1.5M735.3 510.3v-1.5M735.3 520.3v1.5" stroke="#c04000" stroke-width="1" fill="none"/>
<circle cx="782.4" cy="500.2" r="5.0" fill="none" stroke="#c04000" stroke-width="1.4" shape-rendering="geometricPrecision"/><path d="M777.4 500.2h-1.5M787.4 500.2h1.5M782.4 495.2v-1.5M782.4 505.2v1.5" stroke="#c04000" stroke-width="1" fill="none"/>
<circle cx="788.8" cy="499.4" r="5.0" fill="none" stroke="#c04000" stroke-width="1.4" shape-rendering="geometricPrecision"/><path d="M783.8 499.4h-1.5M793.8 499.4h1.5M788.8 494.4v-1.5M788.8 504.4v1.5" stroke="#c04000" stroke-width="1" fill="none"/>
<circle cx="835.6" cy="499.4" r="5.0" fill="none" stroke="#c04000" stroke-width="1.4" shape-rendering="geometricPrecision"/><path d="M830.6 499.4h-1.5M840.6 499.4h1.5M835.6 494.4v-1.5M835.6 504.4v1.5" stroke="#c04000" stroke-width="1" fill="none"/>
<circle cx="841.2" cy="516.2" r="5.0" fill="none" stroke="#c04000" stroke-width="1.4" shape-rendering="geometricPrecision"/><path d="M836.2 516.2h-1.5M846.2 516.2h1.5M841.2 511.2v-1.5M841.2 521.2v1.5" stroke="#c04000" stroke-width="1" fill="none"/>
<circle cx="887.3" cy="471.4" r="5.0" fill="none" stroke="#c04000" stroke-width="1.4" shape-rendering="geometricPrecision"/><path d="M882.3 471.4h-1.5M892.3 471.4h1.5M887.3 466.4v-1.5M887.3 476.4v1.5" stroke="#c04000" stroke-width="1" fill="none"/>
<circle cx="893.3" cy="516.2" r="5.0" fill="none" stroke="#c04000" stroke-width="1.4" shape-rendering="geometricPrecision"/><path d="M888.3 516.2h-1.5M898.3 516.2h1.5M893.3 511.2v-1.5M893.3 521.2v1.5" stroke="#c04000" stroke-width="1" fill="none"/>
<circle cx="940.7" cy="515.3" r="5.0" fill="none" stroke="#c04000" stroke-width="1.4" shape-rendering="geometricPrecision"/><path d="M935.7 515.3h-1.5M945.7 515.3h1.5M940.7 510.3v-1.5M940.7 520.3v1.5" stroke="#c04000" stroke-width="1" fill="none"/>
<circle cx="946.5" cy="502.3" r="5.0" fill="none" stroke="#c04000" stroke-width="1.4" shape-rendering="geometricPrecision"/><path d="M941.5 502.3h-1.5M951.5 502.3h1.5M946.5 497.3v-1.5M946.5 507.3v1.5" stroke="#c04000" stroke-width="1" fill="none"/>
<circle cx="993.3" cy="498.5" r="5.0" fill="none" stroke="#c04000" stroke-width="1.4" shape-rendering="geometricPrecision"/><path d="M988.3 498.5h-1.5M998.3 498.5h1.5M993.3 493.5v-1.5M993.3 503.5v1.5" stroke="#c04000" stroke-width="1" fill="none"/>
<circle cx="999.5" cy="513.4" r="5.0" fill="none" stroke="#c04000" stroke-width="1.4" shape-rendering="geometricPrecision"/><path d="M994.5 513.4h-1.5M1004.5 513.4h1.5M999.5 508.4v-1.5M999.5 518.4v1.5" stroke="#c04000" stroke-width="1" fill="none"/>
<circle cx="1045.2" cy="500.2" r="5.0" fill="none" stroke="#c04000" stroke-width="1.4" shape-rendering="geometricPrecision"/><path d="M1040.2 500.2h-1.5M1050.2 500.2h1.5M1045.2 495.2v-1.5M1045.2 505.2v1.5" stroke="#c04000" stroke-width="1" fill="none"/>
<circle cx="1052.3" cy="513.4" r="5.0" fill="none" stroke="#c04000" stroke-width="1.4" shape-rendering="geometricPrecision"/><path d="M1047.3 513.4h-1.5M1057.3 513.4h1.5M1052.3 508.4v-1.5M1052.3 518.4v1.5" stroke="#c04000" stroke-width="1" fill="none"/>
<circle cx="1098.4" cy="500.2" r="5.0" fill="none" stroke="#c04000" stroke-width="1.4" shape-rendering="geometricPrecision"/><path d="M1093.4 500.2h-1.5M1103.4 500.2h1.5M1098.4 495.2v-1.5M1098.4 505.2v1.5" stroke="#c04000" stroke-width="1" fill="none"/>
<circle cx="1104.4" cy="468.3" r="5.0" fill="none" stroke="#c04000" stroke-width="1.4" shape-rendering="geometricPrecision"/><path d="M1099.4 468.3h-1.5M1109.4 468.3h1.5M1104.4 463.3v-1.5M1104.4 473.3v1.5" stroke="#c04000" stroke-width="1" fill="none"/>
<circle cx="1151.3" cy="499.4" r="5.0" fill="none" stroke="#c04000" stroke-width="1.4" shape-rendering="geometricPrecision"/><path d="M1146.3 499.4h-1.5M1156.3 499.4h1.5M1151.3 494.4v-1.5M1151.3 504.4v1.5" stroke="#c04000" stroke-width="1" fill="none"/>
<circle cx="1157.5" cy="508.3" r="5.0" fill="none" stroke="#c04000" stroke-width="1.4" shape-rendering="geometricPrecision"/><path d="M1152.5 508.3h-1.5M1162.5 508.3h1.5M1157.5 503.3v-1.5M1157.5 513.3v1.5" stroke="#c04000" stroke-width="1" fill="none"/>
<circle cx="1203.5" cy="515.3" r="5.0" fill="none" stroke="#c04000" stroke-width="1.4" shape-rendering="geometricPrecision"/><path d="M1198.5 515.3h-1.5M1208.5 515.3h1.5M1203.5 510.3v-1.5M1203.5 520.3v1.5" stroke="#c04000" stroke-width="1" fill="none"/>
<circle cx="1210.3" cy="499.4" r="5.0" fill="none" stroke="#c04000" stroke-width="1.4" shape-rendering="geometricPrecision"/><path d="M1205.3 499.4h-1.5M1215.3 499.4h1.5M1210.3 494.4v-1.5M1210.3 504.4v1.5" stroke="#c04000" stroke-width="1" fill="none"/>
<circle cx="1256.4" cy="516.2" r="5.0" fill="none" stroke="#c04000" stroke-width="1.4" shape-rendering="geometricPrecision"/><path d="M1251.4 516.2h-1.5M1261.4 516.2h1.5M1256.4 511.2v-1.5M1256.4 521.2v1.5" stroke="#c04000" stroke-width="1" fill="none"/>
<circle cx="1262.4" cy="501.1" r="5.0" fill="none" stroke="#c04000" stroke-width="1.4" shape-rendering="geometricPrecision"/><path d="M1257.4 501.1h-1.5M1267.4 501.1h1.5M1262.4 496.1v-1.5M1262.4 506.1v1.5" stroke="#c04000" stroke-width="1" fill="none"/>
<circle cx="1309.3" cy="516.2" r="5.0" fill="none" stroke="#c04000" stroke-width="1.4" shape-rendering="geometricPrecision"/><path d="M1304.3 516.2h-1.5M1314.3 516.2h1.5M1309.3 511.2v-1.5M1309.3 521.2v1.5" stroke="#c04000" stroke-width="1" fill="none"/>
<circle cx="1315.3" cy="513.4" r="5.0" fill="none" stroke="#c04000" stroke-width="1.4" shape-rendering="geometricPrecision"/><path d="M1310.3 513.4h-1.5M1320.3 513.4h1.5M1315.3 508.4v-1.5M1315.3 518.4v1.5" stroke="#c04000" stroke-width="1" fill="none"/>
<circle cx="1362.3" cy="501.1" r="5.0" fill="none" stroke="#c04000" stroke-width="1.4" shape-rendering="geometricPrecision"/><path d="M1357.3 501.1h-1.5M1367.3 501.1h1.5M1362.3 496.1v-1.5M1362.3 506.1v1.5" stroke="#c04000" stroke-width="1" fill="none"/>
<circle cx="1316.5" cy="186.5" r="5.5" fill="#c8c800" shape-rendering="geometricPrecision"/><path d="M1311.0 186.5h-1M1322.0 186.5h1M1316.5 181.0v-1M1316.5 192.0v1" stroke="#c8c800" stroke-width="1" fill="none"/>
<circle cx="103.2" cy="539.5" r="5.5" fill="#c8c800" shape-rendering="geometricPrecision"/><path d="M97.7 539.5h-1M108.7 539.5h1M103.2 534.0v-1M103.2 545.0v1" stroke="#c8c800" stroke-width="1" fill="none"/>
<circle cx="149.3" cy="535.5" r="5.5" fill="#c8c800" shape-rendering="geometricPrecision"/><path d="M143.8 535.5h-1M154.8 535.5h1M149.3 530.0v-1M149.3 541.0v1" stroke="#c8c800" stroke-width="1" fill="none"/>
<circle cx="208.3" cy="539.5" r="5.5" fill="#c8c800" shape-rendering="geometricPrecision"/><path d="M202.8 539.5h-1M213.8 539.5h1M208.3 534.0v-1M208.3 545.0v1" stroke="#c8c800" stroke-width="1" fill="none"/>
<circle cx="255.3" cy="539.5" r="5.5" fill="#c8c800" shape-rendering="geometricPrecision"/><path d="M249.8 539.5h-1M260.8 539.5h1M255.3 534.0v-1M255.3 545.0v1" stroke="#c8c800" stroke-width="1" fill="none"/>
<circle cx="261.6" cy="539.5" r="5.5" fill="#c8c800" shape-rendering="geometricPrecision"/><path d="M256.1 539.5h-1M267.1 539.5h1M261.6 534.0v-1M261.6 545.0v1" stroke="#c8c800" stroke-width="1" fill="none"/>
<circle cx="307.6" cy="535.5" r="5.5" fill="#c8c800" shape-rendering="geometricPrecision"/><path d="M302.1 535.5h-1M313.1 535.5h1M307.6 530.0v-1M307.6 541.0v1" stroke="#c8c800" stroke-width="1" fill="none"/>
<circle cx="314.4" cy="539.5" r="5.5" fill="#c8c800" shape-rendering="geometricPrecision"/><path d="M308.9 539.5h-1M319.9 539.5h1M314.4 534.0v-1M314.4 545.0v1" stroke="#c8c800" stroke-width="1" fill="none"/>
<circle cx="360.4" cy="534.0" r="5.5" fill="#c8c800" shape-rendering="geometricPrecision"/><path d="M354.9 534.0h-1M365.9 534.0h1M360.4 528.5v-1M360.4 539.5v1" stroke="#c8c800" stroke-width="1" fill="none"/>
<circle cx="366.7" cy="539.5" r="5.5" fill="#c8c800" shape-rendering="geometricPrecision"/><path d="M361.2 539.5h-1M372.2 539.5h1M366.7 534.0v-1M366.7 545.0v1" stroke="#c8c800" stroke-width="1" fill="none"/>
<circle cx="413.3" cy="539.5" r="5.5" fill="#c8c800" shape-rendering="geometricPrecision"/><path d="M407.8 539.5h-1M418.8 539.5h1M413.3 534.0v-1M413.3 545.0v1" stroke="#c8c800" stroke-width="1" fill="none"/>
<circle cx="419.7" cy="539.5" r="5.5" fill="#c8c800" shape-rendering="geometricPrecision"/><path d="M414.2 539.5h-1M425.2 539.5h1M419.7 534.0v-1M419.7 545.0v1" stroke="#c8c800" stroke-width="1" fill="none"/>
<circle cx="466.5" cy="539.5" r="5.5" fill="#c8c800" shape-rendering="geometricPrecision"/><path d="M461.0 539.5h-1M472.0 539.5h1M466.5 534.0v-1M466.5 545.0v1" stroke="#c8c800" stroke-width="1" fill="none"/>
<circle cx="472.1" cy="539.5" r="5.5" fill="#c8c800" shape-rendering="geometricPrecision"/><path d="M466.6 539.5h-1M477.6 539.5h1M472.1 534.0v-1M472.1 545.0v1" stroke="#c8c800" stroke-width="1" fill="none"/>
<circle cx="518.4" cy="539.5" r="5.5" fill="#c8c800" shape-rendering="geometricPrecision"/><path d="M512.9 539.5h-1M523.9 539.5h1M518.4 534.0v-1M518.4 545.0v1" stroke="#c8c800" stroke-width="1" fill="none"/>
<circle cx="524.8" cy="539.5" r="5.5" fill="#c8c800" shape-rendering="geometricPrecision"/><path d="M519.3 539.5h-1M530.3 539.5h1M524.8 534.0v-1M524.8 545.0v1" stroke="#c8c800" stroke-width="1" fill="none"/>
<circle cx="570.7" cy="535.5" r="5.5" fill="#c8c800" shape-rendering="geometricPrecision"/><path d="M565.2 535.5h-1M576.2 535.5h1M570.7 530.0v-1M570.7 541.0v1" stroke="#c8c800" stroke-width="1" fill="none"/>
<circle cx="577.6" cy="539.5" r="5.5" fill="#c8c800" shape-rendering="geometricPrecision"/><path d="M572.1 539.5h-1M583.1 539.5h1M577.6 534.0v-1M577.6 545.0v1" stroke="#c8c800" stroke-width="1" fill="none"/>
<circle cx="624.4" cy="534.0" r="5.5" fill="#c8c800" shape-rendering="geometricPrecision"/><path d="M618.9 534.0h-1M629.9 534.0h1M624.4 528.5v-1M624.4 539.5v1" stroke="#c8c800" stroke-width="1" fill="none"/>
<circle cx="630.7" cy="539.5" r="5.5" fill="#c8c800" shape-rendering="geometricPrecision"/><path d="M625.2 539.5h-1M636.2 539.5h1M630.7 534.0v-1M630.7 545.0v1" stroke="#c8c800" stroke-width="1" fill="none"/>
<circle cx="676.5" cy="539.5" r="5.5" fill="#c8c800" shape-rendering="geometricPrecision"/><path d="M671.0 539.5h-1M682.0 539.5h1M676.5 534.0v-1M676.5 545.0v1" stroke="#c8c800" stroke-width="1" fill="none"/>
<circle cx="683.3" cy="539.5" r="5.5" fill="#c8c800" shape-rendering="geometricPrecision"/><path d="M677.8 539.5h-1M688.8 539.5h1M683.3 534.0v-1M683.3 545.0v1" stroke="#c8c800" stroke-width="1" fill="none"/>
<circle cx="729.5" cy="539.5" r="5.5" fill="#c8c800" shape-rendering="geometricPrecision"/><path d="M724.0 539.5h-1M735.0 539.5h1M729.5 534.0v-1M729.5 545.0v1" stroke="#c8c800" stroke-width="1" fill="none"/>
<circle cx="735.3" cy="539.5" r="5.5" fill="#c8c800" shape-rendering="geometricPrecision"/><path d="M729.8 539.5h-1M740.8 539.5h1M735.3 534.0v-1M735.3 545.0v1" stroke="#c8c800" stroke-width="1" fill="none"/>
<circle cx="782.4" cy="539.5" r="5.5" fill="#c8c800" shape-rendering="geometricPrecision"/><path d="M776.9 539.5h-1M787.9 539.5h1M782.4 534.0v-1M782.4 545.0v1" stroke="#c8c800" stroke-width="1" fill="none"/>
<circle cx="788.8" cy="539.5" r="5.5" fill="#c8c800" shape-rendering="geometricPrecision"/><path d="M783.3 539.5h-1M794.3 539.5h1M788.8 534.0v-1M788.8 545.0v1" stroke="#c8c800" stroke-width="1" fill="none"/>
<circle cx="835.6" cy="534.0" r="5.5" fill="#c8c800" shape-rendering="geometricPrecision"/><path d="M830.1 534.0h-1M841.1 534.0h1M835.6 528.5v-1M835.6 539.5v1" stroke="#c8c800" stroke-width="1" fill="none"/>
<circle cx="841.2" cy="539.5" r="5.5" fill="#c8c800" shape-rendering="geometricPrecision"/><path d="M835.7 539.5h-1M846.7 539.5h1M841.2 534.0v-1M841.2 545.0v1" stroke="#c8c800" stroke-width="1" fill="none"/>
<circle cx="887.3" cy="539.5" r="5.5" fill="#c8c800" shape-rendering="geometricPrecision"/><path d="M881.8 539.5h-1M892.8 539.5h1M887.3 534.0v-1M887.3 545.0v1" stroke="#c8c800" stroke-width="1" fill="none"/>
<circle cx="893.3" cy="539.5" r="5.5" fill="#c8c800" shape-rendering="geometricPrecision"/><path d="M887.8 539.5h-1M898.8 539.5h1M893.3 534.0v-1M893.3 545.0v1" stroke="#c8c800" stroke-width="1" fill="none"/>
<circle cx="940.7" cy="534.0" r="5.5" fill="#c8c800" shape-rendering="geometricPrecision"/><path d="M935.2 534.0h-1M946.2 534.0h1M940.7 528.5v-1M940.7 539.5v1" stroke="#c8c800" stroke-width="1" fill="none"/>
<circle cx="946.5" cy="539.5" r="5.5" fill="#c8c800" shape-rendering="geometricPrecision"/><path d="M941.0 539.5h-1M952.0 539.5h1M946.5 534.0v-1M946.5 545.0v1" stroke="#c8c800" stroke-width="1" fill="none"/>
<circle cx="993.3" cy="534.0" r="5.5" fill="#c8c800" shape-rendering="geometricPrecision"/><path d="M987.8 534.0h-1M998.8 534.0h1M993.3 528.5v-1M993.3 539.5v1" stroke="#c8c800" stroke-width="1" fill="none"/>
<circle cx="999.5" cy="539.5" r="5.5" fill="#c8c800" shape-rendering="geometricPrecision"/><path d="M994.0 539.5h-1M1005.0 539.5h1M999.5 534.0v-1M999.5 545.0v1" stroke="#c8c800" stroke-width="1" fill="none"/>
<circle cx="1045.2" cy="535.7" r="5.5" fill="#c8c800" shape-rendering="geometricPrecision"/><path d="M1039.7 535.7h-1M1050.7 535.7h1M1045.2 530.2v-1M1045.2 541.2v1" stroke="#c8c800" stroke-width="1" fill="none"/>
<circle cx="1052.3" cy="539.5" r="5.5" fill="#c8c800" shape-rendering="geometricPrecision"/><path d="M1046.8 539.5h-1M1057.8 539.5h1M1052.3 534.0v-1M1052.3 545.0v1" stroke="#c8c800" stroke-width="1" fill="none"/>
<circle cx="1098.4" cy="534.0" r="5.5" fill="#c8c800" shape-rendering="geometricPrecision"/><path d="M1092.9 534.0h-1M1103.9 534.0h1M1098.4 528.5v-1M1098.4 539.5v1" stroke="#c8c800" stroke-width="1" fill="none"/>
<circle cx="1104.4" cy="539.5" r="5.5" fill="#c8c800" shape-rendering="geometricPrecision"/><path d="M1098.9 539.5h-1M1109.9 539.5h1M1104.4 534.0v-1M1104.4 545.0v1" stroke="#c8c800" stroke-width="1" fill="none"/>
<circle cx="1151.3" cy="534.0" r="5.5" fill="#c8c800" shape-rendering="geometricPrecision"/><path d="M1145.8 534.0h-1M1156.8 534.0h1M1151.3 528.5v-1M1151.3 539.5v1" stroke="#c8c800" stroke-width="1" fill="none"/>
<circle cx="1157.5" cy="539.5" r="5.5" fill="#c8c800" shape-rendering="geometricPrecision"/><path d="M1152.0 539.5h-1M1163.0 539.5h1M1157.5 534.0v-1M1157.5 545.0v1" stroke="#c8c800" stroke-width="1" fill="none"/>
<circle cx="1203.5" cy="539.5" r="5.5" fill="#c8c800" shape-rendering="geometricPrecision"/><path d="M1198.0 539.5h-1M1209.0 539.5h1M1203.5 534.0v-1M1203.5 545.0v1" stroke="#c8c800" stroke-width="1" fill="none"/>
<circle cx="1210.3" cy="539.5" r="5.5" fill="#c8c800" shape-rendering="geometricPrecision"/><path d="M1204.8 539.5h-1M1215.8 539.5h1M1210.3 534.0v-1M1210.3 545.0v1" stroke="#c8c800" stroke-width="1" fill="none"/>
<circle cx="1256.4" cy="539.5" r="5.5" fill="#c8c800" shape-rendering="geometricPrecision"/><path d="M1250.9 539.5h-1M1261.9 539.5h1M1256.4 534.0v-1M1256.4 545.0v1" stroke="#c8c800" stroke-width="1" fill="none"/>
<circle cx="1262.4" cy="539.5" r="5.5" fill="#c8c800" shape-rendering="geometricPrecision"/><path d="M1256.9 539.5h-1M1267.9 539.5h1M1262.4 534.0v-1M1262.4 545.0v1" stroke="#c8c800" stroke-width="1" fill="none"/>
<circle cx="1309.3" cy="539.5" r="5.5" fill="#c8c800" shape-rendering="geometricPrecision"/><path d="M1303.8 539.5h-1M1314.8 539.5h1M1309.3 534.0v-1M1309.3 545.0v1" stroke="#c8c800" stroke-width="1" fill="none"/>
<circle cx="1315.3" cy="539.5" r="5.5" fill="#c8c800" shape-rendering="geometricPrecision"/><path d="M1309.8 539.5h-1M1320.8 539.5h1M1315.3 534.0v-1M1315.3 545.0v1" stroke="#c8c800" stroke-width="1" fill="none"/>
<circle cx="1362.3" cy="539.5" r="5.5" fill="#c8c800" shape-rendering="geometricPrecision"/><path d="M1356.8 539.5h-1M1367.8 539.5h1M1362.3 534.0v-1M1362.3 545.0v1" stroke="#c8c800" stroke-width="1" fill="none"/>
<path d="M1316.5 197.5L1324.5 209.5L1308.5 209.5Z" fill="none" stroke="#4169e1" stroke-width="1"/>
<path d="M263.5 456.5L271.5 468.5L255.5 468.5Z" fill="none" stroke="#4169e1" stroke-width="1"/>
<path d="M759.5 456.5L767.5 468.5L751.5 468.5Z" fill="none" stroke="#4169e1" stroke-width="1"/>
<path d="M1316.5 216.5L1324.5 228.5L1308.5 228.5Z" fill="#ffc020" stroke="#ffc020" stroke-width="1"/>
<path d="M1310.0 243.5h13M1316.5 237.0v13" stroke="#008040" stroke-width="1" fill="none"/>
<path d="M1316.5 270.5L1324.5 258.5L1308.5 258.5Z" fill="none" stroke="#c080ff" stroke-width="1"/>
<path d="M1316.5 289.5L1324.5 277.5L1308.5 277.5Z" fill="none" stroke="#306080" stroke-width="1"/>
</g>
<rect x="101.5" y="57.5" width="1265.0" height="482.0" stroke="#000" stroke-width="1" fill="none" shape-rendering="crispEdges"/>
<g class="t">
<text x="1062.88" y="76" textLength="131.19" lengthAdjust="spacingAndGlyphs">&quot;Ypingresult.txt&quot;</text>
<text x="1200.68" y="76" textLength="42.71" lengthAdjust="spacingAndGlyphs">using</text><text x="1249.21" y="76" textLength="25.04" lengthAdjust="spacingAndGlyphs">1:2</text>
<text x="1043.39" y="95" textLength="150.75" lengthAdjust="spacingAndGlyphs">&quot;YTimetcpping.txt&quot;</text>
<text x="1200.68" y="95" textLength="42.71" lengthAdjust="spacingAndGlyphs">using</text><text x="1249.21" y="95" textLength="25.04" lengthAdjust="spacingAndGlyphs">1:2</text>
<text x="995.82" y="114" textLength="198.27" lengthAdjust="spacingAndGlyphs">&quot;YCustPingSiteTimes.txt&quot;</text>
<text x="1200.68" y="114" textLength="42.71" lengthAdjust="spacingAndGlyphs">using</text><text x="1249.21" y="114" textLength="25.04" lengthAdjust="spacingAndGlyphs">1:2</text>
<text x="1049.58" y="133" textLength="144.46" lengthAdjust="spacingAndGlyphs">&quot;Yofflineresult.txt&quot;</text>
<text x="1200.68" y="133" textLength="42.71" lengthAdjust="spacingAndGlyphs">using</text><text x="1249.21" y="133" textLength="25.04" lengthAdjust="spacingAndGlyphs">1:2</text>
<text x="1037.40" y="152" textLength="156.66" lengthAdjust="spacingAndGlyphs">&quot;Ytcpoff_record.txt&quot;</text>
<text x="1200.68" y="152" textLength="42.71" lengthAdjust="spacingAndGlyphs">using</text><text x="1249.21" y="152" textLength="25.04" lengthAdjust="spacingAndGlyphs">1:2</text>
<text x="1077.28" y="171" textLength="116.82" lengthAdjust="spacingAndGlyphs">&quot;Ycurltime.txt&quot;</text>
<text x="1200.68" y="171" textLength="42.71" lengthAdjust="spacingAndGlyphs">using</text><text x="1249.21" y="171" textLength="25.04" lengthAdjust="spacingAndGlyphs">1:2</text>
<text x="1048.49" y="190" textLength="145.60" lengthAdjust="spacingAndGlyphs">&quot;Ycurldnstime.txt&quot;</text>
<text x="1200.68" y="190" textLength="42.71" lengthAdjust="spacingAndGlyphs">using</text><text x="1249.21" y="190" textLength="25.04" lengthAdjust="spacingAndGlyphs">1:2</text>
<text x="1008.72" y="209" textLength="185.36" lengthAdjust="spacingAndGlyphs">&quot;YCustPingTimeout.txt&quot;</text>
<text x="1200.68" y="209" textLength="42.71" lengthAdjust="spacingAndGlyphs">using</text><text x="1249.21" y="209" textLength="25.04" lengthAdjust="spacingAndGlyphs">1:2</text>
<text x="1027.49" y="228" textLength="166.61" lengthAdjust="spacingAndGlyphs">&quot;Ypingtargetchange&quot;</text>
<text x="1200.68" y="228" textLength="42.71" lengthAdjust="spacingAndGlyphs">using</text><text x="1249.21" y="228" textLength="25.04" lengthAdjust="spacingAndGlyphs">1:2</text>
<text x="1040.50" y="247" textLength="153.56" lengthAdjust="spacingAndGlyphs">&quot;YHPpingresult.txt&quot;</text>
<text x="1200.68" y="247" textLength="42.71" lengthAdjust="spacingAndGlyphs">using</text><text x="1249.21" y="247" textLength="25.04" lengthAdjust="spacingAndGlyphs">1:2</text>
<text x="1022.39" y="266" textLength="171.74" lengthAdjust="spacingAndGlyphs">&quot;YpingtargetISrouter&quot;</text>
<text x="1200.68" y="266" textLength="42.71" lengthAdjust="spacingAndGlyphs">using</text><text x="1249.21" y="266" textLength="25.04" lengthAdjust="spacingAndGlyphs">1:2</text>
<text x="1116.52" y="285" textLength="77.55" lengthAdjust="spacingAndGlyphs">&quot;Ynoipv6&quot;</text>
<text x="1200.68" y="285" textLength="42.71" lengthAdjust="spacingAndGlyphs">using</text><text x="1249.21" y="285" textLength="25.04" lengthAdjust="spacingAndGlyphs">1:2</text>
</g>
</svg>
</body></html>
